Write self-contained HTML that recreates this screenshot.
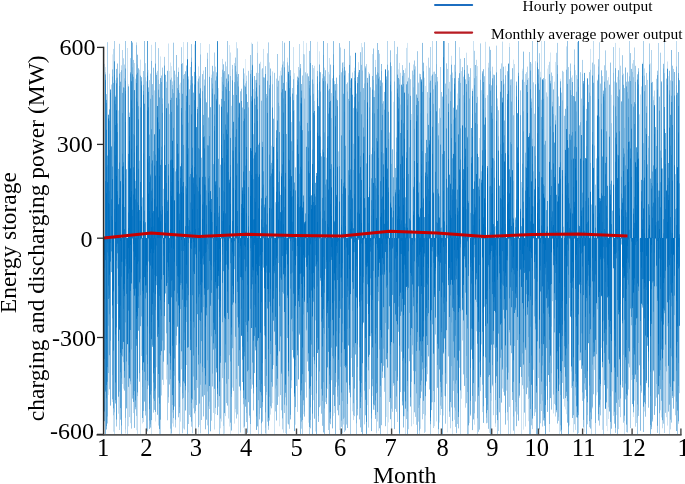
<!DOCTYPE html>
<html><head><meta charset="utf-8"><style>
html,body{margin:0;padding:0;background:#fff;overflow:hidden;}
svg{display:block;}
text{font-family:"Liberation Serif",serif;fill:#000;}
</style></head><body>
<svg width="685" height="484" viewBox="0 0 685 484">
<defs><filter id="tb" x="-2%" y="-2%" width="104%" height="104%"><feGaussianBlur stdDeviation="0.3"/></filter><filter id="bl" x="-1%" y="-1%" width="102%" height="102%"><feGaussianBlur stdDeviation="0.45"/></filter></defs>
<g stroke-width="1" fill="none" filter="url(#bl)"><path stroke="#dfedf7" d="M112.50 54.4V238.2M148.50 69.9V238.2M196.50 75.8V238.2M245.50 59V238.2M261.50 69.4V238.2M509.50 43V238.2M547.50 68.6V238.2M198.50 238.2V434.4M584.50 238.2V432.2M607.50 238.2V431.2"/>
<path stroke="#d4e7f4" d="M104.50 63.9V238.2M105.50 67.1V238.2M115.50 80.3V238.2M128.50 84.1V238.2M160.50 56.4V238.2M169.50 71.1V238.2M170.50 62.5V238.2M171.50 66.2V238.2M175.50 74.5V238.2M179.50 84.6V238.2M183.50 42V238.2M194.50 44.5V238.2M211.50 74.6V238.2M221.50 76.9V238.2M229.50 45.1V238.2M251.50 42.6V238.2M253.50 89V238.2M257.50 41.6V238.2M280.50 70.8V238.2M286.50 81.9V238.2M287.50 57.7V238.2M294.50 73.2V238.2M303.50 41V238.2M306.50 42.9V238.2M317.50 41.8V238.2M318.50 90.1V238.2M319.50 51.3V238.2M337.50 83.9V238.2M343.50 62.1V238.2M348.50 73.2V238.2M354.50 67.7V238.2M361.50 43V238.2M393.50 101.8V238.2M398.50 69.3V238.2M407.50 42.9V238.2M425.50 85.9V238.2M426.50 65.8V238.2M457.50 93.5V238.2M494.50 74.7V238.2M504.50 83.6V238.2M505.50 66.2V238.2M513.50 59.6V238.2M522.50 68.7V238.2M531.50 63.6V238.2M540.50 71.8V238.2M541.50 41V238.2M548.50 65.1V238.2M550.50 52.5V238.2M555.50 61.9V238.2M560.50 78.7V238.2M575.50 70.2V238.2M590.50 48.9V238.2M611.50 94.8V238.2M617.50 76.8V238.2M650.50 63.4V238.2M653.50 96.4V238.2M668.50 76.1V238.2M108.50 238.2V395M126.50 238.2V409M136.50 238.2V430.2M140.50 238.2V434.4M155.50 238.2V421.5M170.50 238.2V434.4M199.50 238.2V425M229.50 238.2V426.5M230.50 238.2V434.4M235.50 238.2V412.4M238.50 238.2V434.4M244.50 238.2V434.4M249.50 238.2V417.9M266.50 238.2V434.4M272.50 238.2V403.2M279.50 238.2V426.3M287.50 238.2V423.6M295.50 238.2V424.7M303.50 238.2V414.2M308.50 238.2V422.7M333.50 238.2V415.9M339.50 238.2V430.1M367.50 238.2V405.1M372.50 238.2V395.9M374.50 238.2V410M378.50 238.2V430.9M386.50 238.2V417M387.50 238.2V434.4M388.50 238.2V422.4M413.50 238.2V424.2M439.50 238.2V422.6M443.50 238.2V415.5M447.50 238.2V432.4M491.50 238.2V432M495.50 238.2V426.9M523.50 238.2V429.7M528.50 238.2V421.2M565.50 238.2V409.4M566.50 238.2V414.2M608.50 238.2V419M633.50 238.2V417M674.50 238.2V396.6"/>
<path stroke="#cae1f2" d="M109.50 73.7V238.2M118.50 110.4V238.2M120.50 72V238.2M127.50 48V238.2M140.50 59.6V238.2M146.50 81.3V238.2M151.50 44.8V238.2M156.50 72.6V238.2M168.50 43.5V238.2M178.50 67.5V238.2M180.50 82.7V238.2M197.50 81.3V238.2M198.50 66.4V238.2M200.50 43V238.2M209.50 44.1V238.2M218.50 88.1V238.2M226.50 66.3V238.2M230.50 52.5V238.2M236.50 42.2V238.2M244.50 73.4V238.2M258.50 72.9V238.2M260.50 61.8V238.2M263.50 48.9V238.2M269.50 62.4V238.2M271.50 145.7V238.2M279.50 75.8V238.2M281.50 67.5V238.2M288.50 65.5V238.2M293.50 47.1V238.2M314.50 65.8V238.2M322.50 74.1V238.2M324.50 67.7V238.2M328.50 71.9V238.2M329.50 58V238.2M358.50 62.2V238.2M368.50 72V238.2M372.50 54.1V238.2M374.50 90.5V238.2M375.50 59.9V238.2M399.50 62.9V238.2M405.50 68.3V238.2M406.50 47.9V238.2M411.50 114V238.2M418.50 82.4V238.2M424.50 77.7V238.2M433.50 71.8V238.2M451.50 55.8V238.2M459.50 47.2V238.2M461.50 71.1V238.2M466.50 52.7V238.2M473.50 41V238.2M477.50 66.1V238.2M479.50 138V238.2M481.50 90.2V238.2M485.50 41.8V238.2M488.50 62.8V238.2M524.50 81.9V238.2M528.50 77.9V238.2M535.50 61.2V238.2M545.50 79.1V238.2M554.50 81.7V238.2M566.50 46.4V238.2M572.50 75.4V238.2M608.50 77.1V238.2M614.50 81.5V238.2M615.50 42.9V238.2M619.50 47.8V238.2M640.50 94.5V238.2M642.50 62.7V238.2M667.50 61.5V238.2M112.50 238.2V402M113.50 238.2V431.7M118.50 238.2V413.7M122.50 238.2V384M123.50 238.2V388.7M125.50 238.2V433.6M128.50 238.2V426.3M130.50 238.2V423.2M142.50 238.2V423.4M151.50 238.2V434.4M156.50 238.2V367.2M166.50 238.2V379.5M172.50 238.2V423.4M173.50 238.2V426.6M179.50 238.2V434.4M180.50 238.2V421.6M183.50 238.2V428.4M215.50 238.2V414.1M220.50 238.2V428.3M221.50 238.2V421.5M223.50 238.2V434.4M224.50 238.2V433.7M232.50 238.2V387.6M234.50 238.2V423.6M243.50 238.2V427.7M256.50 238.2V430M270.50 238.2V414.6M274.50 238.2V434.4M283.50 238.2V432.7M285.50 238.2V433.1M311.50 238.2V394.9M313.50 238.2V400.2M315.50 238.2V431.5M320.50 238.2V405.7M334.50 238.2V413.1M336.50 238.2V382.3M352.50 238.2V411.3M405.50 238.2V434.4M420.50 238.2V428.8M425.50 238.2V431.8M434.50 238.2V426.2M436.50 238.2V421.4M440.50 238.2V415.1M444.50 238.2V395.8M452.50 238.2V434.4M454.50 238.2V419.8M461.50 238.2V398.7M469.50 238.2V423.1M474.50 238.2V424.7M489.50 238.2V432.9M507.50 238.2V420.4M510.50 238.2V434.4M521.50 238.2V434.4M549.50 238.2V432.1M553.50 238.2V413.4M559.50 238.2V434.4M564.50 238.2V406.6M569.50 238.2V425.4M573.50 238.2V432.3M596.50 238.2V395.4M601.50 238.2V347.8M602.50 238.2V429.8M606.50 238.2V425.9M612.50 238.2V391.3M616.50 238.2V415.1M624.50 238.2V434.4M631.50 238.2V380M634.50 238.2V400.6M644.50 238.2V411.5M660.50 238.2V410.3M661.50 238.2V417.4M666.50 238.2V417.2M667.50 238.2V425.6M669.50 238.2V434.4"/>
<path stroke="#bfdbef" d="M113.50 48.9V238.2M121.50 65.3V238.2M134.50 63V238.2M135.50 78.7V238.2M136.50 42.4V238.2M139.50 69.7V238.2M145.50 63.2V238.2M154.50 90.4V238.2M166.50 81.7V238.2M172.50 81.4V238.2M190.50 67V238.2M203.50 70.6V238.2M215.50 66.6V238.2M222.50 58.9V238.2M231.50 105.8V238.2M234.50 63.1V238.2M239.50 102.2V238.2M246.50 75.6V238.2M272.50 71.4V238.2M283.50 61.4V238.2M299.50 44V238.2M304.50 54.4V238.2M313.50 68.1V238.2M326.50 157.7V238.2M334.50 80.9V238.2M336.50 77.3V238.2M350.50 55.7V238.2M352.50 72.5V238.2M396.50 54.1V238.2M400.50 72.8V238.2M413.50 64.5V238.2M431.50 75.8V238.2M432.50 41V238.2M437.50 77V238.2M448.50 43V238.2M449.50 81.9V238.2M452.50 72.5V238.2M472.50 88.6V238.2M476.50 59.8V238.2M497.50 98.4V238.2M502.50 41.6V238.2M514.50 64.1V238.2M525.50 73.9V238.2M563.50 71.8V238.2M576.50 75.1V238.2M593.50 41V238.2M597.50 79.7V238.2M632.50 63.5V238.2M633.50 60V238.2M639.50 114.4V238.2M641.50 86.4V238.2M644.50 68.4V238.2M664.50 41V238.2M676.50 41V238.2M114.50 238.2V434.4M133.50 238.2V413.1M137.50 238.2V433.9M143.50 238.2V422M158.50 238.2V425.6M163.50 238.2V384.9M193.50 238.2V408.3M195.50 238.2V431.5M213.50 238.2V412.9M214.50 238.2V429.5M225.50 238.2V416.1M228.50 238.2V418.5M278.50 238.2V396.7M291.50 238.2V388.2M327.50 238.2V388.9M343.50 238.2V424.5M353.50 238.2V420.1M369.50 238.2V389.2M391.50 238.2V434.4M393.50 238.2V385.9M404.50 238.2V416.3M411.50 238.2V426.3M412.50 238.2V354.5M460.50 238.2V434.4M481.50 238.2V344.4M482.50 238.2V412.1M487.50 238.2V422.8M494.50 238.2V347.9M496.50 238.2V415M502.50 238.2V388.5M514.50 238.2V434.4M517.50 238.2V414.5M519.50 238.2V397.8M525.50 238.2V426.5M533.50 238.2V369.8M546.50 238.2V386.1M575.50 238.2V429.9M591.50 238.2V434.4M597.50 238.2V392.3M613.50 238.2V415.8M636.50 238.2V423M641.50 238.2V392.9M662.50 238.2V428.3M670.50 238.2V429.4"/>
<path stroke="#b5d5ed" d="M111.50 84.5V238.2M122.50 50V238.2M123.50 58.3V238.2M124.50 64.5V238.2M129.50 112.6V238.2M130.50 58.1V238.2M157.50 70.8V238.2M159.50 84V238.2M163.50 188.8V238.2M188.50 76.4V238.2M204.50 79.5V238.2M228.50 74.1V238.2M255.50 80.1V238.2M267.50 53.3V238.2M276.50 78.6V238.2M282.50 41V238.2M291.50 122.1V238.2M294.50 110.1V238.2M298.50 67V238.2M306.50 74.4V238.2M327.50 43.1V238.2M331.50 93.1V238.2M338.50 151.4V238.2M340.50 47.5V238.2M343.50 70.8V238.2M346.50 84.1V238.2M353.50 108.1V238.2M362.50 47.2V238.2M366.50 64.1V238.2M379.50 53.7V238.2M387.50 41V238.2M389.50 132.5V238.2M391.50 66.1V238.2M394.50 41V238.2M404.50 73V238.2M415.50 66.3V238.2M419.50 73.7V238.2M428.50 57.7V238.2M430.50 47V238.2M438.50 123.2V238.2M440.50 67V238.2M447.50 68.9V238.2M450.50 74.7V238.2M454.50 64.8V238.2M460.50 58.8V238.2M463.50 76.7V238.2M487.50 95.2V238.2M492.50 66.7V238.2M495.50 226.1V238.2M496.50 45.6V238.2M501.50 63.4V238.2M521.50 182V238.2M522.50 70.8V238.2M526.50 72.2V238.2M527.50 66.6V238.2M546.50 92.4V238.2M549.50 61.8V238.2M552.50 75.9V238.2M556.50 52.8V238.2M558.50 96.5V238.2M571.50 77.6V238.2M577.50 42.1V238.2M588.50 84.7V238.2M599.50 42.3V238.2M602.50 76.1V238.2M620.50 65.7V238.2M623.50 73.7V238.2M629.50 41V238.2M634.50 47.5V238.2M647.50 79.9V238.2M651.50 50V238.2M654.50 90.5V238.2M656.50 78.8V238.2M658.50 43V238.2M670.50 80.4V238.2M117.50 238.2V304M119.50 238.2V430M127.50 238.2V434.4M129.50 238.2V417.1M141.50 238.2V356M159.50 238.2V434.4M160.50 238.2V434.4M161.50 238.2V395.5M168.50 238.2V402.8M181.50 238.2V369.3M192.50 238.2V433.3M197.50 238.2V387.9M200.50 238.2V433.4M207.50 238.2V425.4M209.50 238.2V409M218.50 238.2V406.7M250.50 238.2V434.4M251.50 238.2V388.8M258.50 238.2V434.4M264.50 238.2V386.1M273.50 238.2V365.1M282.50 238.2V429.4M297.50 238.2V411.9M301.50 238.2V428.7M305.50 238.2V382.3M325.50 238.2V401.9M340.50 238.2V434.2M344.50 238.2V432.1M351.50 238.2V358M364.50 238.2V424.4M366.50 238.2V434.4M368.50 238.2V427.6M376.50 238.2V433.4M377.50 238.2V421.5M397.50 238.2V422M408.50 238.2V429.2M418.50 238.2V421.7M419.50 238.2V434.4M423.50 238.2V414M424.50 238.2V432.9M427.50 238.2V374.2M432.50 238.2V402.2M433.50 238.2V428M438.50 238.2V434.4M450.50 238.2V428.3M453.50 238.2V390.9M459.50 238.2V367.8M462.50 238.2V340.5M465.50 238.2V407.7M468.50 238.2V434.4M476.50 238.2V331.3M477.50 238.2V434.4M480.50 238.2V391.1M491.50 238.2V400.9M492.50 238.2V386.3M493.50 238.2V415.2M498.50 238.2V431M503.50 238.2V391.9M506.50 238.2V390.6M508.50 238.2V434.4M509.50 238.2V406.9M518.50 238.2V421M532.50 238.2V429.1M534.50 238.2V416M535.50 238.2V412.3M538.50 238.2V378M552.50 238.2V301.2M554.50 238.2V403.9M555.50 238.2V416.5M560.50 238.2V431.4M571.50 238.2V387.9M578.50 238.2V433.1M592.50 238.2V408.4M594.50 238.2V369.9M595.50 238.2V434.4M618.50 238.2V429.1M620.50 238.2V417.2M626.50 238.2V432.1M628.50 238.2V389.5M635.50 238.2V426.7M659.50 238.2V434.4M664.50 238.2V433M678.50 238.2V423.8M679.50 238.2V393.2"/>
<path stroke="#aacfea" d="M105.50 72.2V238.2M107.50 42.2V238.2M110.50 89.3V238.2M114.50 41V238.2M119.50 43.8V238.2M149.50 80.1V238.2M150.50 73.6V238.2M155.50 42.1V238.2M158.50 48.1V238.2M164.50 56.9V238.2M169.50 114.2V238.2M177.50 76.9V238.2M181.50 47.2V238.2M183.50 75V238.2M187.50 42.2V238.2M199.50 76.3V238.2M207.50 52.8V238.2M213.50 71.4V238.2M214.50 52.5V238.2M225.50 61.6V238.2M237.50 48.3V238.2M245.50 83.3V238.2M248.50 70.8V238.2M251.50 70V238.2M256.50 72.8V238.2M257.50 52.9V238.2M268.50 42.4V238.2M275.50 202.2V238.2M279.50 106.1V238.2M292.50 88V238.2M296.50 94.6V238.2M303.50 54V238.2M305.50 72.3V238.2M312.50 65V238.2M332.50 78.3V238.2M356.50 93.6V238.2M364.50 42.2V238.2M402.50 65.1V238.2M408.50 77.7V238.2M410.50 79.2V238.2M420.50 74.1V238.2M429.50 67.7V238.2M434.50 71.6V238.2M439.50 108.3V238.2M469.50 77V238.2M474.50 50.8V238.2M480.50 43.4V238.2M509.50 47V238.2M511.50 79.3V238.2M529.50 52V238.2M532.50 41V238.2M533.50 82.3V238.2M534.50 113.7V238.2M539.50 53.2V238.2M544.50 41V238.2M547.50 96.6V238.2M557.50 42.9V238.2M561.50 92.6V238.2M562.50 70.8V238.2M568.50 67.1V238.2M574.50 49.4V238.2M580.50 72.2V238.2M581.50 98.6V238.2M582.50 59.9V238.2M590.50 69.8V238.2M594.50 64.4V238.2M595.50 184.6V238.2M604.50 65.3V238.2M605.50 50.4V238.2M606.50 70.5V238.2M607.50 80.4V238.2M613.50 47.1V238.2M619.50 79.8V238.2M643.50 41V238.2M646.50 72.9V238.2M648.50 136V238.2M649.50 43.4V238.2M660.50 52.7V238.2M673.50 68.9V238.2M675.50 174.2V238.2M125.50 238.2V429.5M148.50 238.2V385.5M167.50 238.2V420.3M172.50 238.2V412.5M175.50 238.2V427.5M176.50 238.2V345.2M182.50 238.2V433.3M184.50 238.2V429.5M186.50 238.2V365M188.50 238.2V424M189.50 238.2V414.9M191.50 238.2V426.7M211.50 238.2V420.7M219.50 238.2V434.4M235.50 238.2V409M240.50 238.2V432.5M261.50 238.2V434.4M266.50 238.2V395.1M267.50 238.2V421.7M268.50 238.2V429.8M281.50 238.2V410.3M289.50 238.2V428.8M302.50 238.2V434.4M303.50 238.2V405.2M306.50 238.2V397.6M309.50 238.2V434.4M328.50 238.2V430M331.50 238.2V380.2M342.50 238.2V433.5M346.50 238.2V424.5M350.50 238.2V434.4M354.50 238.2V416.2M356.50 238.2V434.4M384.50 238.2V391.8M392.50 238.2V411.8M415.50 238.2V416.9M416.50 238.2V424.8M422.50 238.2V419.3M430.50 238.2V434.4M446.50 238.2V383.8M457.50 238.2V424M475.50 238.2V401.5M497.50 238.2V434.4M500.50 238.2V434.4M515.50 238.2V411.5M523.50 238.2V388.9M540.50 238.2V423.3M541.50 238.2V411M542.50 238.2V426.5M574.50 238.2V424.2M579.50 238.2V360.5M587.50 238.2V424.3M589.50 238.2V427.2M599.50 238.2V425.6M603.50 238.2V434.3M608.50 238.2V407.3M610.50 238.2V434.4M630.50 238.2V428.1M650.50 238.2V434.4M656.50 238.2V397.6M675.50 238.2V415.3"/>
<path stroke="#9fc9e7" d="M106.50 94.1V238.2M115.50 95.6V238.2M125.50 41V238.2M133.50 59.9V238.2M142.50 197.5V238.2M143.50 71V238.2M145.50 77.3V238.2M162.50 67.6V238.2M171.50 77.6V238.2M173.50 42.7V238.2M182.50 63.2V238.2M184.50 74V238.2M190.50 80.2V238.2M191.50 44.1V238.2M216.50 72.3V238.2M227.50 41V238.2M232.50 64.9V238.2M233.50 94.9V238.2M235.50 57.6V238.2M236.50 71.6V238.2M250.50 55V238.2M265.50 66.1V238.2M266.50 94V238.2M274.50 72.8V238.2M277.50 54V238.2M288.50 71.8V238.2M300.50 64V238.2M302.50 75.5V238.2M307.50 73.4V238.2M309.50 50.9V238.2M314.50 101V238.2M329.50 74.4V238.2M341.50 72.3V238.2M345.50 70.6V238.2M347.50 82.5V238.2M349.50 41V238.2M351.50 78V238.2M354.50 70.9V238.2M365.50 66.4V238.2M370.50 87.3V238.2M371.50 154.2V238.2M382.50 82.6V238.2M383.50 101.2V238.2M388.50 70.3V238.2M397.50 46.8V238.2M399.50 79.3V238.2M400.50 104.6V238.2M409.50 62.7V238.2M412.50 70.6V238.2M413.50 74.8V238.2M414.50 60.5V238.2M417.50 51.2V238.2M418.50 83.2V238.2M427.50 92.1V238.2M435.50 73.9V238.2M441.50 92V238.2M445.50 83.6V238.2M446.50 63.3V238.2M452.50 78V238.2M453.50 107.7V238.2M458.50 77.9V238.2M465.50 79.3V238.2M467.50 65.2V238.2M470.50 68.2V238.2M476.50 76.1V238.2M484.50 76.2V238.2M488.50 67.6V238.2M489.50 46.6V238.2M493.50 74.6V238.2M498.50 110.2V238.2M500.50 68.8V238.2M510.50 79.5V238.2M518.50 41V238.2M519.50 237.9V238.2M520.50 90.4V238.2M531.50 98.5V238.2M541.50 99.8V238.2M551.50 72.5V238.2M555.50 115.4V238.2M569.50 79.2V238.2M570.50 63.5V238.2M586.50 108.9V238.2M589.50 72.1V238.2M591.50 204.5V238.2M592.50 62.6V238.2M596.50 158.4V238.2M598.50 59.2V238.2M600.50 83.6V238.2M611.50 123.2V238.2M622.50 55.2V238.2M624.50 88.1V238.2M626.50 81.7V238.2M630.50 53.1V238.2M635.50 65.8V238.2M653.50 100.2V238.2M657.50 70.7V238.2M672.50 65.7V238.2M678.50 52V238.2M105.50 238.2V434.4M107.50 238.2V423.5M109.50 238.2V389.3M116.50 238.2V426.5M131.50 238.2V428.6M145.50 238.2V415.5M153.50 238.2V412.6M174.50 238.2V406.5M180.50 238.2V386.8M190.50 238.2V417.1M201.50 238.2V420M222.50 238.2V378.1M223.50 238.2V425.9M226.50 238.2V403.1M236.50 238.2V418.5M237.50 238.2V414.4M246.50 238.2V422.1M252.50 238.2V384.6M265.50 238.2V433.5M269.50 238.2V420.6M275.50 238.2V411.4M280.50 238.2V395.1M284.50 238.2V413M285.50 238.2V397.3M286.50 238.2V434.4M310.50 238.2V428.3M329.50 238.2V434.4M337.50 238.2V410.3M341.50 238.2V426.9M370.50 238.2V336.2M382.50 238.2V378M389.50 238.2V402M396.50 238.2V411.8M400.50 238.2V392.1M401.50 238.2V351.7M406.50 238.2V419.1M425.50 238.2V415.4M441.50 238.2V409M445.50 238.2V423.7M449.50 238.2V416.9M451.50 238.2V407.4M455.50 238.2V426.9M466.50 238.2V403.2M467.50 238.2V434.4M478.50 238.2V431.8M485.50 238.2V398M486.50 238.2V423.3M495.50 238.2V423.4M528.50 238.2V399M531.50 238.2V425.3M558.50 238.2V420.8M562.50 238.2V382.9M575.50 238.2V395.6M582.50 238.2V400.9M584.50 238.2V398.6M600.50 238.2V415.4M607.50 238.2V388.5M615.50 238.2V432.8M619.50 238.2V407M623.50 238.2V422.7M624.50 238.2V420.8M627.50 238.2V432.5M629.50 238.2V367.4M637.50 238.2V434.4M638.50 238.2V415.9M655.50 238.2V406.1M657.50 238.2V432.9M663.50 238.2V423.7M671.50 238.2V422.6M672.50 238.2V398M674.50 238.2V381.4M677.50 238.2V434.4"/>
<path stroke="#95c3e5" d="M117.50 63.5V238.2M124.50 78.3V238.2M144.50 41V238.2M152.50 84.1V238.2M153.50 67.7V238.2M161.50 75.5V238.2M172.50 85V238.2M176.50 55V238.2M186.50 65.5V238.2M189.50 89.3V238.2M197.50 106.9V238.2M200.50 54.5V238.2M201.50 157.7V238.2M202.50 74.1V238.2M211.50 77.9V238.2M220.50 164.7V238.2M240.50 91.3V238.2M241.50 88.7V238.2M242.50 107.5V238.2M246.50 81.1V238.2M249.50 170.8V238.2M252.50 43.9V238.2M255.50 91.4V238.2M262.50 68.3V238.2M264.50 77.6V238.2M284.50 42.7V238.2M287.50 62.3V238.2M299.50 70.2V238.2M304.50 98.6V238.2M310.50 41V238.2M313.50 83.8V238.2M325.50 70.2V238.2M330.50 64.6V238.2M339.50 43.1V238.2M344.50 48.9V238.2M360.50 52.2V238.2M373.50 48.5V238.2M376.50 74.7V238.2M377.50 43V238.2M378.50 50V238.2M384.50 91.9V238.2M386.50 76.4V238.2M390.50 50.3V238.2M391.50 91.4V238.2M429.50 82.7V238.2M433.50 89.3V238.2M436.50 41V238.2M442.50 96.6V238.2M462.50 67.1V238.2M463.50 95.2V238.2M490.50 49.9V238.2M491.50 85.3V238.2M497.50 106.4V238.2M506.50 237.9V238.2M507.50 71.2V238.2M543.50 78V238.2M550.50 80.8V238.2M552.50 101.8V238.2M559.50 106V238.2M564.50 115.8V238.2M567.50 41V238.2M579.50 125.4V238.2M610.50 62.6V238.2M627.50 72.5V238.2M628.50 81.5V238.2M632.50 71.9V238.2M633.50 77.2V238.2M638.50 68.2V238.2M644.50 75.7V238.2M645.50 85.1V238.2M652.50 81.9V238.2M664.50 73.1V238.2M666.50 78.6V238.2M113.50 238.2V415.3M114.50 238.2V412.3M120.50 238.2V419.7M130.50 238.2V384.3M132.50 238.2V398.6M135.50 238.2V409.3M136.50 238.2V415.9M146.50 238.2V433.9M147.50 238.2V431.4M162.50 238.2V379.8M169.50 238.2V384.5M170.50 238.2V428.7M178.50 238.2V417.3M188.50 238.2V392.4M203.50 238.2V416.4M209.50 238.2V401.7M212.50 238.2V386.5M229.50 238.2V355.2M233.50 238.2V390.9M247.50 238.2V432.7M253.50 238.2V410.4M259.50 238.2V419.4M262.50 238.2V421.6M271.50 238.2V408.3M296.50 238.2V386M307.50 238.2V361.5M313.50 238.2V356.9M319.50 238.2V407.2M321.50 238.2V413.7M322.50 238.2V425.8M324.50 238.2V434.3M330.50 238.2V424.2M344.50 238.2V417.6M353.50 238.2V415M357.50 238.2V415.4M359.50 238.2V419.4M360.50 238.2V427.4M361.50 238.2V432.1M378.50 238.2V301.2M380.50 238.2V434.4M381.50 238.2V425.2M383.50 238.2V365.8M385.50 238.2V426.2M395.50 238.2V408.9M409.50 238.2V361.2M414.50 238.2V412.3M421.50 238.2V391.6M429.50 238.2V389.5M435.50 238.2V334.5M440.50 238.2V405.7M448.50 238.2V356.4M456.50 238.2V433.2M458.50 238.2V428.4M463.50 238.2V374.4M474.50 238.2V413.3M479.50 238.2V429.6M484.50 238.2V306.7M488.50 238.2V428.8M499.50 238.2V412.3M506.50 238.2V367.4M513.50 238.2V430.6M522.50 238.2V385.3M527.50 238.2V387.6M529.50 238.2V434.4M530.50 238.2V434.4M544.50 238.2V425.8M545.50 238.2V434.4M551.50 238.2V409.6M556.50 238.2V412.3M557.50 238.2V423.5M559.50 238.2V384.6M563.50 238.2V398.8M568.50 238.2V434.4M571.50 238.2V371.5M577.50 238.2V434.4M580.50 238.2V360.2M583.50 238.2V427.5M593.50 238.2V394.3M614.50 238.2V423.7M617.50 238.2V434.4M621.50 238.2V244.5M625.50 238.2V399.4M643.50 238.2V432M645.50 238.2V416.7M648.50 238.2V407.7M651.50 238.2V429.2M652.50 238.2V421.5M653.50 238.2V371.3M665.50 238.2V412.8M667.50 238.2V326.2"/>
<path stroke="#8abde2" d="M112.50 69.4V238.2M116.50 68.9V238.2M132.50 42.5V238.2M136.50 45.2V238.2M137.50 54.7V238.2M138.50 68.3V238.2M139.50 160.7V238.2M158.50 79.7V238.2M166.50 87.9V238.2M174.50 70.7V238.2M179.50 92.9V238.2M185.50 71.3V238.2M188.50 79.3V238.2M192.50 76.2V238.2M207.50 58.8V238.2M212.50 65.8V238.2M223.50 64.3V238.2M224.50 71.1V238.2M229.50 91V238.2M230.50 76V238.2M232.50 69.1V238.2M237.50 76.9V238.2M238.50 74V238.2M244.50 85.5V238.2M247.50 102V238.2M253.50 134.2V238.2M254.50 76V238.2M259.50 63.7V238.2M269.50 84.9V238.2M270.50 68.5V238.2M272.50 84.3V238.2M278.50 80.7V238.2M290.50 70.1V238.2M295.50 167.4V238.2M297.50 76.6V238.2M301.50 84V238.2M317.50 70.9V238.2M320.50 72.2V238.2M321.50 156.4V238.2M322.50 78.3V238.2M328.50 90.5V238.2M331.50 118.1V238.2M333.50 41.1V238.2M335.50 84V238.2M342.50 62.6V238.2M348.50 98.9V238.2M350.50 80.2V238.2M357.50 77V238.2M361.50 64.9V238.2M362.50 70.5V238.2M363.50 88.1V238.2M364.50 83.5V238.2M369.50 73.7V238.2M381.50 64V238.2M421.50 79.2V238.2M422.50 42.9V238.2M423.50 62.7V238.2M444.50 41V238.2M448.50 88.6V238.2M450.50 91.5V238.2M455.50 41V238.2M464.50 58V238.2M468.50 73.7V238.2M475.50 65V238.2M477.50 96.8V238.2M478.50 157V238.2M481.50 171.3V238.2M482.50 71.3V238.2M485.50 97.9V238.2M503.50 66.7V238.2M512.50 68.2V238.2M513.50 115.3V238.2M515.50 217.5V238.2M523.50 51.6V238.2M530.50 62V238.2M532.50 138.7V238.2M536.50 237.9V238.2M537.50 41V238.2M553.50 89.4V238.2M563.50 226.7V238.2M577.50 79.1V238.2M582.50 73.8V238.2M590.50 95.9V238.2M612.50 210.7V238.2M613.50 72.9V238.2M616.50 82.5V238.2M617.50 96V238.2M631.50 68.9V238.2M637.50 74.3V238.2M659.50 96.6V238.2M663.50 63.8V238.2M669.50 70.7V238.2M671.50 50V238.2M108.50 238.2V373M119.50 238.2V391.7M121.50 238.2V434.4M123.50 238.2V362.2M124.50 238.2V390.6M134.50 238.2V427.9M137.50 238.2V396.1M139.50 238.2V381.7M149.50 238.2V428.9M150.50 238.2V427.6M154.50 238.2V409.9M159.50 238.2V429.1M168.50 238.2V397.2M171.50 238.2V433.6M187.50 238.2V434.4M194.50 238.2V413.4M196.50 238.2V405.1M198.50 238.2V427.1M204.50 238.2V395.2M205.50 238.2V429.3M206.50 238.2V419.7M207.50 238.2V391.5M208.50 238.2V434.4M220.50 238.2V418.6M227.50 238.2V405.6M242.50 238.2V382M243.50 238.2V404.3M260.50 238.2V408.1M265.50 238.2V427.7M275.50 238.2V388.5M276.50 238.2V420.5M288.50 238.2V424.4M290.50 238.2V419.4M291.50 238.2V380.3M292.50 238.2V350M293.50 238.2V358.5M299.50 238.2V334.7M300.50 238.2V434.4M304.50 238.2V416.6M311.50 238.2V376.4M315.50 238.2V320.4M318.50 238.2V421.9M323.50 238.2V432.4M335.50 238.2V434.4M338.50 238.2V415.3M340.50 238.2V366.8M345.50 238.2V430.4M347.50 238.2V428M349.50 238.2V392.7M362.50 238.2V434.4M365.50 238.2V415.3M367.50 238.2V303.9M373.50 238.2V409.7M375.50 238.2V418.9M379.50 238.2V428.3M391.50 238.2V408.7M394.50 238.2V429.1M398.50 238.2V331.8M403.50 238.2V427.5M407.50 238.2V434.4M413.50 238.2V370.8M417.50 238.2V434.4M418.50 238.2V407.9M424.50 238.2V368M431.50 238.2V410.1M454.50 238.2V407.6M455.50 238.2V410.6M470.50 238.2V415.6M472.50 238.2V430.1M490.50 238.2V434.4M505.50 238.2V424.6M507.50 238.2V412.2M508.50 238.2V372.6M509.50 238.2V332.4M511.50 238.2V353.2M512.50 238.2V400M514.50 238.2V346M515.50 238.2V402M516.50 238.2V426.2M524.50 238.2V412.6M535.50 238.2V408.9M536.50 238.2V434.4M537.50 238.2V434M540.50 238.2V403.8M541.50 238.2V394.3M542.50 238.2V400.6M543.50 238.2V420.4M558.50 238.2V417.1M560.50 238.2V425.3M576.50 238.2V417.3M585.50 238.2V389.8M587.50 238.2V415.1M590.50 238.2V428.6M597.50 238.2V309.2M604.50 238.2V385.1M611.50 238.2V428.7M637.50 238.2V417.5M638.50 238.2V410.4M639.50 238.2V365.3M640.50 238.2V430.7M641.50 238.2V391.3M642.50 238.2V307.6M656.50 238.2V384M666.50 238.2V371.4M668.50 238.2V411.6"/>
<path stroke="#80b8e0" d="M121.50 70.2V238.2M141.50 77.2V238.2M148.50 87.4V238.2M151.50 60.9V238.2M165.50 74.9V238.2M167.50 70.8V238.2M175.50 171.4V238.2M190.50 85.2V238.2M191.50 57.6V238.2M193.50 92.6V238.2M198.50 78.6V238.2M205.50 67V238.2M208.50 117.5V238.2M219.50 104.5V238.2M222.50 69.7V238.2M227.50 83.3V238.2M234.50 82.1V238.2M243.50 68.4V238.2M261.50 100.7V238.2M266.50 97.8V238.2M273.50 118.7V238.2M277.50 86.7V238.2M293.50 79.2V238.2M308.50 76.3V238.2M324.50 76.3V238.2M330.50 80.1V238.2M334.50 84.4V238.2M336.50 78V238.2M347.50 91.6V238.2M353.50 143.8V238.2M358.50 72.4V238.2M367.50 77.9V238.2M375.50 67.1V238.2M379.50 76.7V238.2M380.50 80.3V238.2M392.50 149.3V238.2M394.50 81.5V238.2M395.50 168V238.2M403.50 70.1V238.2M413.50 87.3V238.2M419.50 182.5V238.2M436.50 64.2V238.2M440.50 117.8V238.2M446.50 94.7V238.2M453.50 119.5V238.2M457.50 105.3V238.2M458.50 81V238.2M460.50 82.9V238.2M483.50 69.2V238.2M494.50 75.2V238.2M498.50 136.3V238.2M505.50 75.2V238.2M516.50 81.6V238.2M533.50 171.3V238.2M538.50 69.2V238.2M540.50 77.4V238.2M562.50 100.4V238.2M565.50 108.8V238.2M566.50 69.7V238.2M570.50 71.1V238.2M571.50 95V238.2M574.50 64.8V238.2M576.50 91.7V238.2M583.50 81V238.2M594.50 145.6V238.2M597.50 80.8V238.2M598.50 66.5V238.2M599.50 116.7V238.2M601.50 70.3V238.2M603.50 90.6V238.2M609.50 84.7V238.2M618.50 70.2V238.2M624.50 127.9V238.2M625.50 67.5V238.2M629.50 76.3V238.2M648.50 147.8V238.2M661.50 81.4V238.2M662.50 168.5V238.2M674.50 72V238.2M676.50 66.5V238.2M679.50 80.2V238.2M104.50 238.2V421.2M105.50 238.2V434.4M106.50 238.2V429.5M110.50 238.2V405.6M111.50 238.2V272.1M115.50 238.2V403.5M125.50 238.2V417.8M144.50 238.2V401.6M157.50 238.2V414.8M161.50 238.2V351.2M164.50 238.2V350.3M172.50 238.2V405M183.50 238.2V397.9M193.50 238.2V376.5M195.50 238.2V411.2M200.50 238.2V384.8M210.50 238.2V431.3M215.50 238.2V407.9M216.50 238.2V372.4M217.50 238.2V415.1M218.50 238.2V299.4M228.50 238.2V379.1M230.50 238.2V422.7M231.50 238.2V430.5M244.50 238.2V426.7M245.50 238.2V406.7M246.50 238.2V413M248.50 238.2V402.2M249.50 238.2V415.6M254.50 238.2V373.1M255.50 238.2V350.4M257.50 238.2V426.4M259.50 238.2V413.8M266.50 238.2V392M269.50 238.2V396.8M270.50 238.2V406.3M277.50 238.2V404.9M294.50 238.2V431.1M312.50 238.2V434.4M314.50 238.2V418.7M316.50 238.2V434.4M326.50 238.2V404.1M329.50 238.2V422.8M332.50 238.2V428.4M342.50 238.2V401.1M343.50 238.2V418.8M356.50 238.2V423.3M371.50 238.2V431.1M372.50 238.2V386.3M390.50 238.2V419.2M399.50 238.2V434.4M402.50 238.2V405.4M411.50 238.2V381.8M412.50 238.2V345.3M419.50 238.2V430.6M426.50 238.2V381.5M428.50 238.2V356.4M433.50 238.2V391M434.50 238.2V402.1M437.50 238.2V387.8M442.50 238.2V434.4M453.50 238.2V380.7M462.50 238.2V310.4M464.50 238.2V385.9M466.50 238.2V378M473.50 238.2V419.4M476.50 238.2V302.1M477.50 238.2V418.3M483.50 238.2V422.9M486.50 238.2V417.7M501.50 238.2V402.6M518.50 238.2V420.3M526.50 238.2V394.2M528.50 238.2V376.6M539.50 238.2V429.4M547.50 238.2V411.9M549.50 238.2V424M553.50 238.2V394.6M555.50 238.2V405.2M561.50 238.2V434.4M566.50 238.2V396.1M567.50 238.2V422.7M569.50 238.2V298M572.50 238.2V418M586.50 238.2V434.1M592.50 238.2V406.8M618.50 238.2V399.7M623.50 238.2V354.9M631.50 238.2V325.3M650.50 238.2V434.4M654.50 238.2V414.9M670.50 238.2V419.7M673.50 238.2V408.7M676.50 238.2V431"/>
<path stroke="#75b2dd" d="M113.50 82.9V238.2M124.50 87.8V238.2M126.50 169.2V238.2M132.50 67.3V238.2M135.50 180.9V238.2M137.50 64.6V238.2M162.50 98.4V238.2M170.50 79.7V238.2M179.50 99V238.2M183.50 78.8V238.2M185.50 110.5V238.2M206.50 102.3V238.2M210.50 107.2V238.2M215.50 80.5V238.2M236.50 74.3V238.2M248.50 107.4V238.2M263.50 77.3V238.2M280.50 194.9V238.2M281.50 75.4V238.2M282.50 64.6V238.2M286.50 134V238.2M289.50 41V238.2M319.50 64.5V238.2M323.50 41V238.2M372.50 76V238.2M373.50 79.9V238.2M376.50 84.4V238.2M378.50 73.2V238.2M387.50 64.7V238.2M396.50 137.5V238.2M408.50 93.7V238.2M416.50 94.5V238.2M427.50 113.4V238.2M429.50 97.7V238.2M435.50 82.3V238.2M437.50 81.4V238.2M439.50 196.2V238.2M469.50 98.5V238.2M474.50 78.2V238.2M480.50 79.8V238.2M490.50 71.3V238.2M504.50 120.5V238.2M510.50 85.2V238.2M525.50 152.7V238.2M531.50 101.8V238.2M555.50 120.3V238.2M557.50 65.2V238.2M573.50 96V238.2M580.50 122.2V238.2M589.50 92.6V238.2M605.50 87.8V238.2M620.50 237.9V238.2M627.50 92.1V238.2M643.50 143.2V238.2M646.50 106.3V238.2M655.50 127.1V238.2M677.50 92.8V238.2M107.50 238.2V416.5M112.50 238.2V399.3M117.50 238.2V268.5M122.50 238.2V356.4M126.50 238.2V408.1M131.50 238.2V349.4M141.50 238.2V316.5M143.50 238.2V410.9M145.50 238.2V411.1M146.50 238.2V354.7M158.50 238.2V397.6M165.50 238.2V293.5M166.50 238.2V333.3M173.50 238.2V418.1M174.50 238.2V375.7M179.50 238.2V413.1M182.50 238.2V398.8M185.50 238.2V410.5M186.50 238.2V322M199.50 238.2V403.6M202.50 238.2V396.6M211.50 238.2V336.3M232.50 238.2V348.2M234.50 238.2V269.2M236.50 238.2V378.9M250.50 238.2V424M258.50 238.2V400.2M262.50 238.2V406.8M263.50 238.2V267.6M264.50 238.2V335.2M272.50 238.2V386.7M278.50 238.2V263M282.50 238.2V418.4M286.50 238.2V405.5M287.50 238.2V338M295.50 238.2V407.1M301.50 238.2V421.6M304.50 238.2V411.6M310.50 238.2V419.9M322.50 238.2V400.9M324.50 238.2V408.5M337.50 238.2V396.6M341.50 238.2V420.7M355.50 238.2V354.5M357.50 238.2V408.9M361.50 238.2V396.9M364.50 238.2V390.7M370.50 238.2V295.2M374.50 238.2V405.3M380.50 238.2V396.9M388.50 238.2V329.3M404.50 238.2V391.7M410.50 238.2V406.5M416.50 238.2V393.4M422.50 238.2V369.3M440.50 238.2V387M451.50 238.2V366.1M452.50 238.2V421.1M457.50 238.2V393.2M467.50 238.2V392M479.50 238.2V362.3M482.50 238.2V384.7M495.50 238.2V400M504.50 238.2V395.6M513.50 238.2V416.5M516.50 238.2V406.9M517.50 238.2V340M529.50 238.2V397.7M534.50 238.2V316.4M543.50 238.2V413.7M544.50 238.2V420.6M550.50 238.2V398.1M551.50 238.2V373.2M559.50 238.2V346.8M568.50 238.2V434.4M573.50 238.2V415.2M578.50 238.2V415.1M581.50 238.2V368.8M584.50 238.2V383.4M591.50 238.2V419.2M595.50 238.2V423M596.50 238.2V354.2M598.50 238.2V420.5M599.50 238.2V407.2M600.50 238.2V399.7M609.50 238.2V411.5M622.50 238.2V387.5M632.50 238.2V404.1M633.50 238.2V412.3M636.50 238.2V382.1M646.50 238.2V383.1M647.50 238.2V345.8M652.50 238.2V419.4M659.50 238.2V413.2M660.50 238.2V389.1M661.50 238.2V400.8M665.50 238.2V366.4M669.50 238.2V404.7M674.50 238.2V315.1"/>
<path stroke="#6aacda" d="M112.50 76.5V238.2M116.50 78.2V238.2M117.50 77.5V238.2M118.50 168.9V238.2M120.50 81.7V238.2M122.50 92.9V238.2M130.50 72.3V238.2M133.50 76.8V238.2M140.50 75.7V238.2M143.50 84.8V238.2M149.50 134.6V238.2M150.50 98.8V238.2M152.50 95.2V238.2M153.50 151.1V238.2M156.50 74.9V238.2M160.50 78.1V238.2M168.50 103.5V238.2M172.50 89.1V238.2M173.50 93.1V238.2M174.50 80.4V238.2M177.50 88.1V238.2M178.50 71.9V238.2M188.50 122.7V238.2M194.50 71.9V238.2M198.50 82.4V238.2M203.50 114.9V238.2M204.50 85.6V238.2M205.50 98.5V238.2M209.50 76.8V238.2M212.50 83.6V238.2M216.50 76.4V238.2M221.50 98.9V238.2M222.50 81.9V238.2M223.50 72.8V238.2M228.50 74.6V238.2M235.50 65.9V238.2M237.50 81.4V238.2M243.50 78.7V238.2M251.50 96.3V238.2M256.50 79.8V238.2M267.50 80.7V238.2M271.50 162.9V238.2M278.50 102.8V238.2M309.50 81V238.2M312.50 79.5V238.2M313.50 93.8V238.2M325.50 81.3V238.2M333.50 54.3V238.2M337.50 100.2V238.2M339.50 75.2V238.2M342.50 68.3V238.2M350.50 88V238.2M354.50 77.8V238.2M356.50 108.5V238.2M360.50 91.8V238.2M364.50 100V238.2M365.50 68.3V238.2M366.50 163.4V238.2M374.50 97.1V238.2M377.50 72.3V238.2M381.50 71.1V238.2M382.50 103.6V238.2M383.50 153.3V238.2M386.50 79.6V238.2M391.50 163.9V238.2M393.50 177.3V238.2M398.50 78V238.2M399.50 84.6V238.2M402.50 75.8V238.2M407.50 81.4V238.2M409.50 147.3V238.2M414.50 69.5V238.2M420.50 77.1V238.2M425.50 153.1V238.2M433.50 103.8V238.2M438.50 135.4V238.2M451.50 64.7V238.2M455.50 71.7V238.2M456.50 109.6V238.2M459.50 73.2V238.2M468.50 80.8V238.2M489.50 84.2V238.2M491.50 105.9V238.2M499.50 185.7V238.2M502.50 97.7V238.2M503.50 79.4V238.2M511.50 101.6V238.2M513.50 180.8V238.2M523.50 111.3V238.2M527.50 79.8V238.2M534.50 146.3V238.2M535.50 84.3V238.2M538.50 74.7V238.2M544.50 144.6V238.2M545.50 140.8V238.2M553.50 114.1V238.2M560.50 81.3V238.2M576.50 111.5V238.2M593.50 82.8V238.2M596.50 237.9V238.2M601.50 103.7V238.2M615.50 68.2V238.2M616.50 116.1V238.2M621.50 101.4V238.2M622.50 75.2V238.2M623.50 84.8V238.2M635.50 81.9V238.2M640.50 237.9V238.2M645.50 128.3V238.2M647.50 164.4V238.2M656.50 146V238.2M660.50 150.5V238.2M663.50 68.5V238.2M665.50 133V238.2M676.50 85.2V238.2M108.50 238.2V325.8M128.50 238.2V386.9M135.50 238.2V407.1M138.50 238.2V330.7M147.50 238.2V389.1M150.50 238.2V424.3M151.50 238.2V420.1M152.50 238.2V346.8M153.50 238.2V398.6M155.50 238.2V411.9M160.50 238.2V419.7M162.50 238.2V340.6M170.50 238.2V379M175.50 238.2V419.7M176.50 238.2V335.9M191.50 238.2V421.6M195.50 238.2V400M203.50 238.2V307M207.50 238.2V360.3M208.50 238.2V406.2M212.50 238.2V373.6M217.50 238.2V400M226.50 238.2V383.7M239.50 238.2V386.5M256.50 238.2V429.9M259.50 238.2V390.8M276.50 238.2V385.5M283.50 238.2V293.6M284.50 238.2V404.7M292.50 238.2V331.4M300.50 238.2V417.6M302.50 238.2V420M306.50 238.2V330.4M308.50 238.2V371.2M318.50 238.2V416.1M331.50 238.2V347.7M333.50 238.2V394.9M339.50 238.2V405.1M344.50 238.2V366M348.50 238.2V345.5M353.50 238.2V403.2M356.50 238.2V400M359.50 238.2V380.7M366.50 238.2V433.8M368.50 238.2V370.4M383.50 238.2V348.7M385.50 238.2V322.9M393.50 238.2V383.2M394.50 238.2V385.1M395.50 238.2V370.8M396.50 238.2V396.5M407.50 238.2V411.4M408.50 238.2V348.5M409.50 238.2V312.9M415.50 238.2V371.3M419.50 238.2V405M420.50 238.2V398.1M430.50 238.2V424.2M436.50 238.2V256.7M438.50 238.2V429.2M441.50 238.2V397M443.50 238.2V353.6M449.50 238.2V411.5M455.50 238.2V383.7M466.50 238.2V356M470.50 238.2V413.9M471.50 238.2V349.6M487.50 238.2V410.1M492.50 238.2V384.7M500.50 238.2V357.8M505.50 238.2V412.8M521.50 238.2V376.9M522.50 238.2V353.4M525.50 238.2V349.8M545.50 238.2V434.4M546.50 238.2V348.1M548.50 238.2V375.1M560.50 238.2V395M565.50 238.2V398.1M575.50 238.2V387.3M582.50 238.2V392.4M589.50 238.2V421.1M603.50 238.2V341.3M616.50 238.2V402.9M620.50 238.2V398.5M625.50 238.2V383.6M628.50 238.2V363.6M634.50 238.2V379.1M638.50 238.2V343M649.50 238.2V281.1M651.50 238.2V426.7M658.50 238.2V394.4M663.50 238.2V349.8M664.50 238.2V313.2M671.50 238.2V356.3"/>
<path stroke="#60a6d8" d="M109.50 109.4V238.2M119.50 73.6V238.2M125.50 68.5V238.2M128.50 86.4V238.2M131.50 41V238.2M155.50 63.6V238.2M159.50 97.4V238.2M161.50 82V238.2M162.50 104.1V238.2M164.50 65.6V238.2M171.50 97.8V238.2M181.50 64V238.2M189.50 105V238.2M202.50 91.2V238.2M213.50 164.1V238.2M218.50 158.8V238.2M225.50 86.9V238.2M226.50 78.6V238.2M235.50 83.9V238.2M250.50 73.9V238.2M252.50 64.7V238.2M253.50 158.5V238.2M255.50 104.9V238.2M257.50 96.6V238.2M262.50 141.8V238.2M283.50 82.9V238.2M289.50 80.2V238.2M291.50 141.3V238.2M297.50 80.3V238.2M299.50 121.4V238.2M300.50 68.3V238.2M313.50 105.5V238.2M315.50 182.8V238.2M316.50 173V238.2M320.50 91.6V238.2M322.50 149.5V238.2M323.50 54.9V238.2M324.50 132.4V238.2M327.50 83.6V238.2M336.50 98.7V238.2M338.50 237.9V238.2M343.50 93.8V238.2M353.50 169.9V238.2M358.50 74.9V238.2M369.50 75.7V238.2M384.50 109.7V238.2M387.50 71.7V238.2M396.50 151.9V238.2M405.50 197.3V238.2M406.50 84.3V238.2M411.50 230.1V238.2M419.50 216.3V238.2M420.50 113.4V238.2M430.50 80.7V238.2M432.50 74.5V238.2M441.50 227.5V238.2M447.50 187.6V238.2M450.50 101V238.2M466.50 84.1V238.2M470.50 212.9V238.2M471.50 128V238.2M475.50 112.8V238.2M477.50 124.2V238.2M482.50 73.5V238.2M486.50 237.9V238.2M492.50 78.3V238.2M493.50 158.4V238.2M494.50 160.7V238.2M496.50 72.4V238.2M518.50 72.8V238.2M520.50 115.2V238.2M522.50 79.7V238.2M541.50 117V238.2M543.50 80.3V238.2M549.50 74.2V238.2M551.50 169.7V238.2M572.50 82V238.2M586.50 120.8V238.2M590.50 162.9V238.2M604.50 81.7V238.2M606.50 131.3V238.2M610.50 183.9V238.2M613.50 105.5V238.2M617.50 154.7V238.2M619.50 89.5V238.2M627.50 149.5V238.2M628.50 98.6V238.2M630.50 81V238.2M633.50 106.6V238.2M634.50 102.2V238.2M638.50 71.6V238.2M644.50 91.2V238.2M649.50 64.4V238.2M650.50 178.6V238.2M657.50 75.1V238.2M658.50 190.5V238.2M661.50 82.5V238.2M669.50 90.3V238.2M671.50 95.8V238.2M672.50 81.2V238.2M673.50 237.9V238.2M675.50 209.1V238.2M678.50 73.1V238.2M112.50 238.2V375.1M121.50 238.2V425.5M130.50 238.2V381.3M140.50 238.2V326.2M142.50 238.2V418M148.50 238.2V261.5M149.50 238.2V420.5M156.50 238.2V285.2M163.50 238.2V361.7M169.50 238.2V353.4M178.50 238.2V380.7M179.50 238.2V407.1M180.50 238.2V309M182.50 238.2V393.2M184.50 238.2V383.3M192.50 238.2V399.5M194.50 238.2V390.2M213.50 238.2V349.6M214.50 238.2V388.8M224.50 238.2V413.1M231.50 238.2V396.9M237.50 238.2V317.3M238.50 238.2V365.9M240.50 238.2V390.5M253.50 238.2V393.5M261.50 238.2V423.2M265.50 238.2V412.3M268.50 238.2V425.8M271.50 238.2V382.1M279.50 238.2V351.3M295.50 238.2V366.3M296.50 238.2V256.2M298.50 238.2V379.4M303.50 238.2V400.3M309.50 238.2V427M319.50 238.2V371.5M320.50 238.2V280.7M321.50 238.2V388.8M323.50 238.2V382.2M329.50 238.2V412.5M334.50 238.2V406M337.50 238.2V390.1M338.50 238.2V385.7M349.50 238.2V389.4M350.50 238.2V397.3M352.50 238.2V377M354.50 238.2V388.6M371.50 238.2V418.5M372.50 238.2V378.9M375.50 238.2V415M376.50 238.2V393.2M377.50 238.2V412.1M378.50 238.2V291.9M379.50 238.2V349.5M384.50 238.2V377.7M398.50 238.2V306.7M402.50 238.2V401.4M407.50 238.2V386M412.50 238.2V329M417.50 238.2V341.9M426.50 238.2V366.7M431.50 238.2V402.4M432.50 238.2V324.3M439.50 238.2V369.5M450.50 238.2V402M451.50 238.2V322.4M456.50 238.2V380.3M459.50 238.2V350.7M464.50 238.2V258.9M465.50 238.2V292.7M468.50 238.2V425.4M474.50 238.2V257.3M475.50 238.2V299.8M488.50 238.2V376.9M502.50 238.2V369.5M519.50 238.2V395.6M520.50 238.2V367M528.50 238.2V337.1M529.50 238.2V381.2M530.50 238.2V409M539.50 238.2V362.6M542.50 238.2V365.5M551.50 238.2V326.7M554.50 238.2V332.4M564.50 238.2V367.2M583.50 238.2V419.9M584.50 238.2V373.8M590.50 238.2V412.4M592.50 238.2V364.7M604.50 238.2V380.1M606.50 238.2V402.4M610.50 238.2V421.9M614.50 238.2V411.8M615.50 238.2V427.8M622.50 238.2V381M626.50 238.2V424.6M637.50 238.2V404.5M644.50 238.2V402.3M645.50 238.2V404.1M657.50 238.2V425.8M662.50 238.2V420.2M672.50 238.2V395.9M678.50 238.2V421.3"/>
<path stroke="#55a0d5" d="M105.50 74.4V238.2M106.50 99.9V238.2M123.50 87.4V238.2M138.50 106.2V238.2M147.50 41V238.2M158.50 89.7V238.2M182.50 93.8V238.2M192.50 83.4V238.2M206.50 190.4V238.2M214.50 94.4V238.2M222.50 91.1V238.2M238.50 86.5V238.2M245.50 86.7V238.2M258.50 144.7V238.2M259.50 85.2V238.2M264.50 204.5V238.2M265.50 74V238.2M267.50 96V238.2M269.50 88.4V238.2M270.50 75.7V238.2M284.50 67.3V238.2M290.50 75.8V238.2M292.50 93.6V238.2M298.50 77.7V238.2M307.50 122.9V238.2M309.50 85.2V238.2M310.50 63V238.2M319.50 71.6V238.2M326.50 179.5V238.2M329.50 88.9V238.2M335.50 90.5V238.2M344.50 66.9V238.2M345.50 145.8V238.2M349.50 64.9V238.2M352.50 94.7V238.2M359.50 70V238.2M361.50 114.3V238.2M363.50 127.5V238.2M371.50 178.3V238.2M373.50 97V238.2M380.50 86.1V238.2M388.50 111.8V238.2M389.50 237.9V238.2M390.50 62.4V238.2M395.50 189.7V238.2M397.50 74.6V238.2M399.50 98.4V238.2M403.50 83.9V238.2M407.50 99.6V238.2M410.50 95.8V238.2M414.50 128.8V238.2M418.50 101.1V238.2M422.50 91.9V238.2M438.50 139.6V238.2M452.50 158.3V238.2M454.50 78.2V238.2M460.50 128.4V238.2M467.50 136.8V238.2M474.50 85.1V238.2M476.50 102.9V238.2M492.50 81.2V238.2M501.50 81V238.2M504.50 135.3V238.2M510.50 142.1V238.2M515.50 219.6V238.2M516.50 85.6V238.2M517.50 113.2V238.2M521.50 226.2V238.2M525.50 166.8V238.2M526.50 85V238.2M529.50 133.2V238.2M530.50 70.5V238.2M531.50 108V238.2M533.50 206.5V238.2M537.50 62.6V238.2M539.50 89.8V238.2M546.50 210.1V238.2M557.50 74.1V238.2M567.50 83.9V238.2M570.50 90.1V238.2M574.50 96.6V238.2M575.50 101.3V238.2M584.50 72.9V238.2M588.50 102.1V238.2M595.50 205.5V238.2M604.50 100.5V238.2M618.50 97.1V238.2M625.50 165.4V238.2M626.50 86.4V238.2M631.50 104.1V238.2M651.50 82.7V238.2M652.50 171.5V238.2M662.50 237.9V238.2M668.50 163V238.2M672.50 101.6V238.2M674.50 95.4V238.2M109.50 238.2V355.2M110.50 238.2V340.7M113.50 238.2V408.4M116.50 238.2V419.5M118.50 238.2V396.7M120.50 238.2V408.1M125.50 238.2V322.4M128.50 238.2V364.9M133.50 238.2V401.9M134.50 238.2V391.1M139.50 238.2V373.2M142.50 238.2V387.1M145.50 238.2V380.2M151.50 238.2V390.9M154.50 238.2V400.9M159.50 238.2V428.9M167.50 238.2V364.6M186.50 238.2V307.2M201.50 238.2V341.1M202.50 238.2V372.1M204.50 238.2V368.1M222.50 238.2V322.2M224.50 238.2V369.1M230.50 238.2V361.5M235.50 238.2V336.8M243.50 238.2V398.1M248.50 238.2V369.9M250.50 238.2V379.1M252.50 238.2V362.6M266.50 238.2V375.9M270.50 238.2V354.1M274.50 238.2V331.6M281.50 238.2V373.7M285.50 238.2V392.8M288.50 238.2V376.4M290.50 238.2V414.8M292.50 238.2V318M297.50 238.2V355.3M299.50 238.2V333.4M305.50 238.2V257.6M306.50 238.2V328.5M310.50 238.2V407.3M314.50 238.2V364.1M316.50 238.2V393.4M317.50 238.2V353M324.50 238.2V333.8M325.50 238.2V268.8M330.50 238.2V418.6M332.50 238.2V356.1M335.50 238.2V386.9M339.50 238.2V333.3M342.50 238.2V342.3M347.50 238.2V403.9M353.50 238.2V347.3M357.50 238.2V366.9M358.50 238.2V239.9M363.50 238.2V322.6M373.50 238.2V404.3M382.50 238.2V371.6M386.50 238.2V359.2M387.50 238.2V367.6M397.50 238.2V380.8M405.50 238.2V408.7M421.50 238.2V380.7M423.50 238.2V400.8M424.50 238.2V287.1M427.50 238.2V345M437.50 238.2V365M445.50 238.2V396.3M460.50 238.2V390.4M472.50 238.2V395.9M478.50 238.2V395.8M483.50 238.2V406.2M487.50 238.2V404.7M489.50 238.2V375.1M490.50 238.2V393M496.50 238.2V376.3M497.50 238.2V420.1M498.50 238.2V333.6M503.50 238.2V309.8M509.50 238.2V330M510.50 238.2V345.4M512.50 238.2V392M532.50 238.2V418.6M547.50 238.2V399.8M549.50 238.2V382M567.50 238.2V401.2M568.50 238.2V426.6M578.50 238.2V344.8M581.50 238.2V333.3M586.50 238.2V396.1M588.50 238.2V343.2M594.50 238.2V356.3M600.50 238.2V386.1M602.50 238.2V367.3M608.50 238.2V359.6M624.50 238.2V415.6M625.50 238.2V360M627.50 238.2V395.5M630.50 238.2V308.5M632.50 238.2V374.9M645.50 238.2V390.4M650.50 238.2V424.9M653.50 238.2V370M656.50 238.2V286.4M660.50 238.2V370.1M669.50 238.2V383.5M676.50 238.2V401.7M677.50 238.2V410.6"/>
<path stroke="#4a9ad2" d="M107.50 155.6V238.2M115.50 96.9V238.2M117.50 123.4V238.2M119.50 86V238.2M122.50 113.1V238.2M130.50 73.8V238.2M133.50 134.1V238.2M136.50 74.5V238.2M137.50 72.8V238.2M140.50 107.4V238.2M141.50 81.3V238.2M143.50 90.9V238.2M151.50 129.2V238.2M167.50 200.2V238.2M172.50 140.4V238.2M185.50 186.2V238.2M199.50 93.5V238.2M200.50 88.3V238.2M203.50 125.2V238.2M207.50 145.2V238.2M212.50 88.5V238.2M217.50 41V238.2M223.50 84.6V238.2M224.50 101.1V238.2M227.50 112.4V238.2M232.50 80.3V238.2M241.50 101V238.2M246.50 94.2V238.2M251.50 101.3V238.2M254.50 98.6V238.2M256.50 82.9V238.2M266.50 195.8V238.2M276.50 130.2V238.2M279.50 132.1V238.2M281.50 92.4V238.2M283.50 98.4V238.2M294.50 182.5V238.2M301.50 90.6V238.2M302.50 130.1V238.2M305.50 213.4V238.2M308.50 131.2V238.2M311.50 195.3V238.2M312.50 149.5V238.2M317.50 76.3V238.2M318.50 106.1V238.2M328.50 113.6V238.2M341.50 135.4V238.2M342.50 193.9V238.2M348.50 170.2V238.2M358.50 101.7V238.2M359.50 136.5V238.2M360.50 155.9V238.2M369.50 107.4V238.2M376.50 138.1V238.2M377.50 109V238.2M392.50 217.4V238.2M398.50 96.9V238.2M400.50 133V238.2M401.50 84.7V238.2M402.50 86.6V238.2M417.50 97.8V238.2M421.50 80.2V238.2M423.50 71.3V238.2M424.50 217.1V238.2M426.50 139.9V238.2M428.50 124.9V238.2M435.50 85.2V238.2M442.50 154.1V238.2M443.50 41V238.2M448.50 103.6V238.2M451.50 123.8V238.2M455.50 117.7V238.2M456.50 199.4V238.2M459.50 98.6V238.2M464.50 69.9V238.2M465.50 127.6V238.2M466.50 91.8V238.2M472.50 90.9V238.2M479.50 178.6V238.2M483.50 82V238.2M489.50 186.4V238.2M490.50 90.6V238.2M500.50 91.8V238.2M507.50 94V238.2M508.50 63.6V238.2M513.50 217.7V238.2M523.50 131.4V238.2M535.50 155.9V238.2M538.50 83.5V238.2M543.50 98.9V238.2M544.50 186V238.2M550.50 83.4V238.2M554.50 142.6V238.2M564.50 232.5V238.2M569.50 134.2V238.2M582.50 192.6V238.2M586.50 146.3V238.2M587.50 78.3V238.2M592.50 75.5V238.2M598.50 74.6V238.2M602.50 156.5V238.2M603.50 93.9V238.2M615.50 106.6V238.2M624.50 153.6V238.2M635.50 104.1V238.2M636.50 147.3V238.2M643.50 180.5V238.2M646.50 112.9V238.2M649.50 71.7V238.2M653.50 165.4V238.2M659.50 110.6V238.2M669.50 94.6V238.2M670.50 114.8V238.2M679.50 183.3V238.2M106.50 238.2V426.1M107.50 238.2V381.8M115.50 238.2V400.1M121.50 238.2V378.3M124.50 238.2V377.7M137.50 238.2V392.4M152.50 238.2V344.9M153.50 238.2V382.5M177.50 238.2V326.7M181.50 238.2V351.3M185.50 238.2V390.3M191.50 238.2V403M194.50 238.2V327.6M197.50 238.2V314.2M198.50 238.2V364.5M200.50 238.2V363.4M215.50 238.2V348.4M219.50 238.2V396.1M225.50 238.2V362.5M231.50 238.2V393.8M234.50 238.2V256.2M244.50 238.2V356.3M255.50 238.2V346.6M256.50 238.2V416.5M259.50 238.2V379.9M264.50 238.2V326.2M280.50 238.2V336.4M282.50 238.2V292M287.50 238.2V298M293.50 238.2V357M295.50 238.2V360M300.50 238.2V395.2M303.50 238.2V314.5M311.50 238.2V344.6M312.50 238.2V413.6M313.50 238.2V301.7M326.50 238.2V397.8M327.50 238.2V367.4M328.50 238.2V351.9M334.50 238.2V300.8M336.50 238.2V346.5M340.50 238.2V308.8M352.50 238.2V310.8M359.50 238.2V347.3M360.50 238.2V408.1M361.50 238.2V383M365.50 238.2V399.8M369.50 238.2V354.8M371.50 238.2V413.5M376.50 238.2V383.4M377.50 238.2V391.9M392.50 238.2V294.9M399.50 238.2V432.9M400.50 238.2V315.9M402.50 238.2V361M403.50 238.2V416.2M420.50 238.2V385.1M425.50 238.2V396.2M441.50 238.2V392.4M442.50 238.2V374.6M453.50 238.2V341.5M458.50 238.2V417M467.50 238.2V328.5M480.50 238.2V377.1M485.50 238.2V357.4M486.50 238.2V413.2M490.50 238.2V389.3M492.50 238.2V365.1M493.50 238.2V344.5M497.50 238.2V408.8M499.50 238.2V398M502.50 238.2V367.4M506.50 238.2V310.2M515.50 238.2V309.8M523.50 238.2V364.6M526.50 238.2V294.2M530.50 238.2V326.7M535.50 238.2V329.4M548.50 238.2V313.7M557.50 238.2V369.2M562.50 238.2V361.2M566.50 238.2V391.8M572.50 238.2V386M575.50 238.2V373.9M585.50 238.2V378M587.50 238.2V402.3M589.50 238.2V385.6M598.50 238.2V414.1M599.50 238.2V404.8M603.50 238.2V320.6M610.50 238.2V396.3M640.50 238.2V385.4M642.50 238.2V305.3M648.50 238.2V387.4M652.50 238.2V282.7M662.50 238.2V379.9M670.50 238.2V386.9M671.50 238.2V306.3M678.50 238.2V386"/>
<path stroke="#4094d0" d="M108.50 114.7V238.2M109.50 120.8V238.2M110.50 89.7V238.2M114.50 61.3V238.2M125.50 80.8V238.2M132.50 74.3V238.2M144.50 103.7V238.2M145.50 222.2V238.2M147.50 72.5V238.2M148.50 91.8V238.2M155.50 154.7V238.2M158.50 122.3V238.2M161.50 146.7V238.2M162.50 112.8V238.2M170.50 100V238.2M173.50 127.9V238.2M176.50 97.8V238.2M177.50 105.4V238.2M178.50 90.1V238.2M183.50 144.9V238.2M186.50 95.8V238.2M188.50 148.3V238.2M190.50 174V238.2M191.50 61.9V238.2M194.50 84.5V238.2M197.50 109V238.2M208.50 145.5V238.2M209.50 136.1V238.2M214.50 114.6V238.2M216.50 98.9V238.2M218.50 212.7V238.2M226.50 89.4V238.2M232.50 128.4V238.2M236.50 95V238.2M237.50 163.5V238.2M243.50 121.1V238.2M244.50 109.2V238.2M246.50 113.7V238.2M263.50 171.3V238.2M270.50 165.2V238.2M272.50 107.5V238.2M282.50 89.1V238.2M288.50 71.9V238.2M292.50 150.8V238.2M293.50 100.2V238.2M297.50 85V238.2M298.50 81.7V238.2M299.50 173.8V238.2M300.50 103.3V238.2M306.50 146.8V238.2M309.50 88.2V238.2M314.50 111V238.2M320.50 136.6V238.2M325.50 184.5V238.2M327.50 85.6V238.2M331.50 164.2V238.2M333.50 65.2V238.2M334.50 220.8V238.2M337.50 106.2V238.2M339.50 166.2V238.2M343.50 182.9V238.2M350.50 169.3V238.2M354.50 96.9V238.2M357.50 83.1V238.2M364.50 136.6V238.2M365.50 207.7V238.2M367.50 82.7V238.2M372.50 89.6V238.2M374.50 113.4V238.2M375.50 178.1V238.2M378.50 78.6V238.2M382.50 114.9V238.2M384.50 209.7V238.2M388.50 139V238.2M390.50 81.5V238.2M406.50 152.2V238.2M407.50 105.3V238.2M408.50 174V238.2M413.50 186.8V238.2M423.50 85.2V238.2M427.50 147.4V238.2M437.50 188.9V238.2M440.50 144.6V238.2M441.50 235.7V238.2M444.50 151.1V238.2M446.50 128.4V238.2M468.50 201.2V238.2M473.50 188.9V238.2M481.50 179.8V238.2M484.50 124.6V238.2M487.50 166V238.2M496.50 85.4V238.2M503.50 84.5V238.2M508.50 74.1V238.2M511.50 144.1V238.2M522.50 163.7V238.2M552.50 106.4V238.2M561.50 237.9V238.2M567.50 106.1V238.2M568.50 147.8V238.2M571.50 135.5V238.2M572.50 132V238.2M578.50 41V238.2M583.50 83.5V238.2M584.50 77.9V238.2M611.50 180.7V238.2M621.50 176.8V238.2M623.50 148.3V238.2M628.50 117.1V238.2M629.50 141.5V238.2M634.50 124V238.2M637.50 79.6V238.2M638.50 84.5V238.2M641.50 179.9V238.2M644.50 160V238.2M656.50 167.6V238.2M657.50 89.6V238.2M658.50 197.1V238.2M660.50 182.2V238.2M664.50 107V238.2M674.50 96.3V238.2M676.50 95.1V238.2M678.50 78.1V238.2M104.50 238.2V411.5M105.50 238.2V391.7M112.50 238.2V318.3M126.50 238.2V361.5M133.50 238.2V395M136.50 238.2V345.8M140.50 238.2V295.2M144.50 238.2V371.8M147.50 238.2V381.1M150.50 238.2V394.6M155.50 238.2V388.5M160.50 238.2V355.2M161.50 238.2V350.9M170.50 238.2V369.7M174.50 238.2V358.5M184.50 238.2V340M188.50 238.2V347.2M193.50 238.2V355.6M196.50 238.2V380M199.50 238.2V320.1M210.50 238.2V306M216.50 238.2V368.2M223.50 238.2V271.2M242.50 238.2V359.7M245.50 238.2V399.4M246.50 238.2V325.2M247.50 238.2V371.3M253.50 238.2V387.8M260.50 238.2V392.1M261.50 238.2V395.4M262.50 238.2V402M267.50 238.2V308.5M269.50 238.2V301.8M273.50 238.2V320.7M275.50 238.2V344.9M277.50 238.2V378.7M281.50 238.2V371.7M294.50 238.2V396.6M301.50 238.2V390.5M315.50 238.2V266.4M316.50 238.2V380.7M322.50 238.2V395.5M329.50 238.2V384.2M333.50 238.2V358.5M338.50 238.2V379.3M341.50 238.2V392.5M346.50 238.2V382.5M347.50 238.2V328.9M348.50 238.2V309.7M361.50 238.2V376M370.50 238.2V278.4M375.50 238.2V400.4M380.50 238.2V385.8M397.50 238.2V376.8M399.50 238.2V419.6M403.50 238.2V390.7M410.50 238.2V397.3M413.50 238.2V306.2M414.50 238.2V384.2M421.50 238.2V356M430.50 238.2V421M432.50 238.2V251.4M440.50 238.2V381.9M444.50 238.2V338.4M445.50 238.2V373.1M450.50 238.2V295.4M455.50 238.2V335.8M460.50 238.2V310.9M470.50 238.2V400.8M473.50 238.2V383.1M479.50 238.2V332M488.50 238.2V266.7M491.50 238.2V344.7M495.50 238.2V382.9M513.50 238.2V381.8M527.50 238.2V314.7M529.50 238.2V363M531.50 238.2V384.8M532.50 238.2V415.7M536.50 238.2V392.6M537.50 238.2V341.3M541.50 238.2V381.6M542.50 238.2V355.8M544.50 238.2V417.9M549.50 238.2V362.7M554.50 238.2V318.4M555.50 238.2V299.9M556.50 238.2V410.2M561.50 238.2V429.8M568.50 238.2V344.2M570.50 238.2V316.7M576.50 238.2V406.3M577.50 238.2V417.6M581.50 238.2V285M586.50 238.2V301.2M588.50 238.2V286M593.50 238.2V356.7M617.50 238.2V376.9M628.50 238.2V348M635.50 238.2V374.6M637.50 238.2V369.8M638.50 238.2V290.9M643.50 238.2V406.7M650.50 238.2V396.1M659.50 238.2V375.9M661.50 238.2V349.4"/>
<path stroke="#358ecd" d="M106.50 102.9V238.2M107.50 165.2V238.2M111.50 146.4V238.2M112.50 166.5V238.2M114.50 75.1V238.2M115.50 104.2V238.2M116.50 83.3V238.2M122.50 153.7V238.2M124.50 207V238.2M132.50 108.3V238.2M134.50 90.1V238.2M135.50 188.5V238.2M137.50 101.6V238.2M150.50 174.5V238.2M151.50 163.6V238.2M164.50 73.8V238.2M168.50 164.1V238.2M171.50 111.9V238.2M182.50 124.7V238.2M186.50 102V238.2M189.50 176.8V238.2M196.50 127.1V238.2M198.50 148.1V238.2M204.50 136.4V238.2M205.50 176.8V238.2M212.50 93.6V238.2M219.50 187.5V238.2M223.50 133.8V238.2M225.50 124.5V238.2M227.50 114.6V238.2M228.50 81.3V238.2M230.50 137.9V238.2M235.50 136.9V238.2M238.50 117.5V238.2M245.50 165.7V238.2M248.50 187.1V238.2M251.50 148.4V238.2M252.50 65.5V238.2M253.50 179.2V238.2M254.50 123.1V238.2M257.50 109.3V238.2M261.50 198.3V238.2M269.50 154.7V238.2M277.50 120.5V238.2M278.50 182.1V238.2M284.50 186.7V238.2M285.50 90.7V238.2M289.50 88.1V238.2M295.50 190.4V238.2M303.50 195.5V238.2M310.50 95.6V238.2M315.50 196.6V238.2M317.50 83.9V238.2M319.50 81.8V238.2M323.50 81.1V238.2M324.50 157V238.2M325.50 197V238.2M328.50 136V238.2M330.50 100.8V238.2M349.50 101V238.2M355.50 52.8V238.2M363.50 136.8V238.2M372.50 112.8V238.2M376.50 188.3V238.2M378.50 93.5V238.2M381.50 130.1V238.2M393.50 196.4V238.2M396.50 177.5V238.2M397.50 88.6V238.2M403.50 123.3V238.2M405.50 223.6V238.2M416.50 105V238.2M417.50 115.4V238.2M420.50 208V238.2M422.50 151.1V238.2M429.50 140.3V238.2M436.50 111.3V238.2M449.50 174.7V238.2M457.50 189.6V238.2M467.50 138.2V238.2M471.50 157.3V238.2M475.50 123V238.2M478.50 186.6V238.2M483.50 94.2V238.2M491.50 112.7V238.2M492.50 118.8V238.2M494.50 177.7V238.2M500.50 144.3V238.2M501.50 154V238.2M509.50 169.3V238.2M516.50 96.5V238.2M518.50 76.1V238.2M527.50 92V238.2M530.50 89.3V238.2M537.50 67.3V238.2M547.50 201V238.2M550.50 126.3V238.2M553.50 132.2V238.2M556.50 194.8V238.2M560.50 87.7V238.2M570.50 139.8V238.2M578.50 87V238.2M585.50 158.1V238.2M587.50 79.4V238.2M592.50 132V238.2M600.50 198.4V238.2M610.50 189.8V238.2M619.50 131.3V238.2M622.50 198.2V238.2M626.50 212.3V238.2M630.50 148.5V238.2M637.50 88.8V238.2M642.50 64V238.2M649.50 206.7V238.2M650.50 237.5V238.2M651.50 183V238.2M652.50 185.8V238.2M661.50 157.8V238.2M663.50 219.2V238.2M665.50 149.1V238.2M667.50 68.7V238.2M670.50 145.6V238.2M671.50 102V238.2M674.50 139.8V238.2M106.50 238.2V398.2M109.50 238.2V314.3M111.50 238.2V251.4M120.50 238.2V372.3M122.50 238.2V349.1M125.50 238.2V266.2M135.50 238.2V400.4M138.50 238.2V308M139.50 238.2V283.4M149.50 238.2V409.2M150.50 238.2V360.5M154.50 238.2V390.8M158.50 238.2V374M159.50 238.2V403.6M172.50 238.2V395.1M173.50 238.2V409.9M176.50 238.2V301.5M180.50 238.2V285.1M183.50 238.2V381.4M184.50 238.2V332.4M190.50 238.2V350.1M202.50 238.2V366.6M205.50 238.2V384.5M205.50 238.2V376.6M206.50 238.2V315.4M209.50 238.2V386M217.50 238.2V394.1M218.50 238.2V286M220.50 238.2V362.8M225.50 238.2V344.4M228.50 238.2V319.1M232.50 238.2V304.7M237.50 238.2V292M239.50 238.2V350.2M244.50 238.2V351.9M250.50 238.2V308.8M254.50 238.2V335.9M266.50 238.2V272.6M272.50 238.2V369.1M279.50 238.2V306.2M286.50 238.2V254.3M290.50 238.2V288.6M291.50 238.2V319.3M292.50 238.2V272.6M302.50 238.2V374.2M304.50 238.2V302M309.50 238.2V388.6M317.50 238.2V337.9M321.50 238.2V321.7M323.50 238.2V328M336.50 238.2V331.2M342.50 238.2V323.6M345.50 238.2V367.4M354.50 238.2V252.1M357.50 238.2V344.5M360.50 238.2V402M363.50 238.2V282.7M365.50 238.2V381.7M366.50 238.2V421.9M367.50 238.2V284.3M376.50 238.2V328M381.50 238.2V363.1M389.50 238.2V306.3M390.50 238.2V398.1M393.50 238.2V343.3M401.50 238.2V311.6M407.50 238.2V381.1M416.50 238.2V350.9M421.50 238.2V344.4M422.50 238.2V362.3M424.50 238.2V256.6M427.50 238.2V316.2M443.50 238.2V352.4M446.50 238.2V330.2M454.50 238.2V357.6M457.50 238.2V360.5M463.50 238.2V320.5M471.50 238.2V328.6M474.50 238.2V245M477.50 238.2V343.7M482.50 238.2V331.8M501.50 238.2V349.6M504.50 238.2V318.5M507.50 238.2V379.6M532.50 238.2V404M534.50 238.2V278.8M541.50 238.2V373.5M545.50 238.2V405.1M564.50 238.2V346.2M565.50 238.2V376.7M573.50 238.2V381.3M575.50 238.2V317.1M580.50 238.2V352.5M589.50 238.2V334M593.50 238.2V352.3M601.50 238.2V296.2M604.50 238.2V352.9M606.50 238.2V344.8M611.50 238.2V372.2M624.50 238.2V319.7M626.50 238.2V394.1M627.50 238.2V279.7M629.50 238.2V351.4M631.50 238.2V316.9M633.50 238.2V406.6M644.50 238.2V395.4M646.50 238.2V380.5M648.50 238.2V361.4M653.50 238.2V311.7M665.50 238.2V344.6M669.50 238.2V299.8M673.50 238.2V381.2M674.50 238.2V295.6M676.50 238.2V370.8M678.50 238.2V363.1"/>
<path stroke="#2a88ca" d="M105.50 79.9V238.2M110.50 92.6V238.2M117.50 132.1V238.2M119.50 162.5V238.2M123.50 162.3V238.2M125.50 90.8V238.2M128.50 153.9V238.2M131.50 81.2V238.2M136.50 83V238.2M137.50 145.2V238.2M138.50 119.3V238.2M141.50 85.4V238.2M154.50 134.3V238.2M156.50 160.9V238.2M157.50 106V238.2M167.50 202V238.2M179.50 193.7V238.2M180.50 166.3V238.2M181.50 108V238.2M182.50 169.3V238.2M186.50 140.3V238.2M188.50 218V238.2M192.50 147.7V238.2M193.50 177.4V238.2M197.50 113.2V238.2M199.50 149.3V238.2M207.50 238V238.2M209.50 176.1V238.2M214.50 126V238.2M217.50 42.2V238.2M229.50 179.7V238.2M232.50 150.5V238.2M233.50 121.8V238.2M242.50 187.4V238.2M256.50 87.5V238.2M256.50 94.5V238.2M263.50 184.6V238.2M267.50 112.9V238.2M269.50 179.6V238.2M271.50 173.5V238.2M272.50 160.4V238.2M276.50 137.9V238.2M279.50 171.5V238.2M281.50 173.4V238.2M283.50 112.5V238.2M285.50 104V238.2M290.50 96.7V238.2M294.50 233.9V238.2M300.50 125.7V238.2M308.50 147.6V238.2M313.50 112.9V238.2M314.50 115.2V238.2M322.50 197.9V238.2M329.50 102V238.2M333.50 75.5V238.2M335.50 115.9V238.2M344.50 75.4V238.2M348.50 195.3V238.2M354.50 106.5V238.2M355.50 80.7V238.2M359.50 173.4V238.2M371.50 200.2V238.2M375.50 185.8V238.2M390.50 84.9V238.2M395.50 192.1V238.2M410.50 120V238.2M413.50 188.8V238.2M422.50 202.5V238.2M427.50 174.2V238.2M428.50 161.4V238.2M432.50 126.8V238.2M440.50 228V238.2M441.50 237.9V238.2M443.50 57.2V238.2M451.50 138V238.2M454.50 83.8V238.2M456.50 231.7V238.2M458.50 134.4V238.2M460.50 159.5V238.2M463.50 169.2V238.2M464.50 74.7V238.2M466.50 209.2V238.2M472.50 96.3V238.2M479.50 189.7V238.2M482.50 150.3V238.2M483.50 109.2V238.2M484.50 140.1V238.2M485.50 117.5V238.2M498.50 150.6V238.2M507.50 99.7V238.2M512.50 170V238.2M515.50 227.2V238.2M522.50 187.6V238.2M530.50 105.5V238.2M538.50 106.8V238.2M539.50 171.8V238.2M542.50 79.4V238.2M542.50 91.7V238.2M571.50 159.7V238.2M574.50 146.6V238.2M575.50 131.3V238.2M581.50 135V238.2M582.50 207.6V238.2M583.50 105.7V238.2M601.50 129.3V238.2M603.50 96.5V238.2M605.50 162.9V238.2M607.50 185.8V238.2M609.50 136.7V238.2M615.50 137.6V238.2M616.50 132.6V238.2M621.50 193.7V238.2M633.50 208.5V238.2M634.50 196.9V238.2M635.50 162.4V238.2M648.50 204.2V238.2M656.50 221.9V238.2M657.50 130V238.2M668.50 177.8V238.2M672.50 125V238.2M105.50 238.2V390.3M107.50 238.2V367.1M108.50 238.2V299M113.50 238.2V350.6M116.50 238.2V327.5M117.50 238.2V253.3M121.50 238.2V355.1M124.50 238.2V371M130.50 238.2V330M137.50 238.2V378.6M140.50 238.2V278.6M142.50 238.2V370.1M145.50 238.2V298.5M146.50 238.2V292.7M147.50 238.2V364M152.50 238.2V314.7M155.50 238.2V310.1M157.50 238.2V336.8M160.50 238.2V309.5M161.50 238.2V315.8M164.50 238.2V316.1M167.50 238.2V282.9M170.50 238.2V363.1M171.50 238.2V297.3M173.50 238.2V388.1M179.50 238.2V383.1M181.50 238.2V283.1M182.50 238.2V299.8M186.50 238.2V300.3M187.50 238.2V347.7M191.50 238.2V398.3M192.50 238.2V295.2M198.50 238.2V354.8M207.50 238.2V290.1M208.50 238.2V289.5M211.50 238.2V292.8M213.50 238.2V343.3M226.50 238.2V264.6M230.50 238.2V263.2M231.50 238.2V334.6M242.50 238.2V346.7M245.50 238.2V322M247.50 238.2V341.6M250.50 238.2V251M257.50 238.2V340.6M261.50 238.2V383.9M262.50 238.2V363.1M265.50 238.2V359M268.50 238.2V417.8M274.50 238.2V273.2M276.50 238.2V366M280.50 238.2V277.8M297.50 238.2V350.3M301.50 238.2V383.3M307.50 238.2V312.3M308.50 238.2V353.3M310.50 238.2V386.3M313.50 238.2V287.5M314.50 238.2V360.4M316.50 238.2V367.5M324.50 238.2V292.7M326.50 238.2V387.9M329.50 238.2V375.4M330.50 238.2V411.9M335.50 238.2V372.9M340.50 238.2V277.8M348.50 238.2V290.7M349.50 238.2V385.2M359.50 238.2V306.5M362.50 238.2V363.2M368.50 238.2V356.9M373.50 238.2V270.9M377.50 238.2V358.1M386.50 238.2V287.7M387.50 238.2V353.1M390.50 238.2V354.1M404.50 238.2V304.9M405.50 238.2V401.4M406.50 238.2V287M408.50 238.2V287.8M410.50 238.2V335.2M417.50 238.2V332.1M418.50 238.2V286.3M419.50 238.2V350.5M428.50 238.2V313.2M433.50 238.2V353.7M435.50 238.2V317.6M437.50 238.2V343.8M438.50 238.2V348.6M441.50 238.2V332.1M445.50 238.2V349M448.50 238.2V285.1M452.50 238.2V307.7M458.50 238.2V411.9M462.50 238.2V309.7M470.50 238.2V367.9M476.50 238.2V279.3M478.50 238.2V387.4M482.50 238.2V312.5M486.50 238.2V304.2M489.50 238.2V362.6M490.50 238.2V350.1M502.50 238.2V284.5M506.50 238.2V309.7M509.50 238.2V298.4M511.50 238.2V307.2M512.50 238.2V290.9M514.50 238.2V313M519.50 238.2V383.2M523.50 238.2V342.3M525.50 238.2V347.6M530.50 238.2V299.9M531.50 238.2V355.5M535.50 238.2V323.5M537.50 238.2V281.6M539.50 238.2V348.5M540.50 238.2V291.5M544.50 238.2V390.1M550.50 238.2V355.7M556.50 238.2V392.5M561.50 238.2V372.9M564.50 238.2V336.1M568.50 238.2V274.8M576.50 238.2V381.8M582.50 238.2V365.5M587.50 238.2V371.2M588.50 238.2V275.7M594.50 238.2V351.8M600.50 238.2V384M605.50 238.2V408.8M609.50 238.2V363.6M610.50 238.2V334M615.50 238.2V392.4M616.50 238.2V258.4M618.50 238.2V314.3M619.50 238.2V359.3M620.50 238.2V384.8M622.50 238.2V323.3M628.50 238.2V284.7M633.50 238.2V347.9M634.50 238.2V354.5M637.50 238.2V317.7M641.50 238.2V303.9M643.50 238.2V369.1M648.50 238.2V357.6M650.50 238.2V371.8M651.50 238.2V323.9M652.50 238.2V281.3M657.50 238.2V300.8M663.50 238.2V324.6M664.50 238.2V310.5M668.50 238.2V365.8M669.50 238.2V295.5M670.50 238.2V348.2M672.50 238.2V391M677.50 238.2V341.9"/>
<path stroke="#2082c8" d="M105.50 81.7V238.2M109.50 149.9V238.2M110.50 130.6V238.2M114.50 100.6V238.2M125.50 94.3V238.2M128.50 161.4V238.2M131.50 99.7V238.2M133.50 167.3V238.2M133.50 182.7V238.2M134.50 135.4V238.2M136.50 98.4V238.2M139.50 210V238.2M141.50 89.4V238.2M141.50 114V238.2M143.50 94.8V238.2M144.50 210.7V238.2M147.50 75.8V238.2M148.50 107.3V238.2M149.50 156.1V238.2M152.50 160.4V238.2M158.50 148.2V238.2M160.50 164.9V238.2M161.50 159.8V238.2M162.50 206.2V238.2M166.50 108.2V238.2M174.50 200.2V238.2M176.50 168.8V238.2M178.50 153.5V238.2M181.50 112.5V238.2M190.50 202.5V238.2M191.50 114.3V238.2M194.50 100.2V238.2M195.50 41V238.2M196.50 174.6V238.2M200.50 98.3V238.2M202.50 176.9V238.2M205.50 185.3V238.2M208.50 178.3V238.2M211.50 199V238.2M212.50 222V238.2M215.50 181.4V238.2M216.50 100.6V238.2M217.50 185.8V238.2M218.50 216.9V238.2M223.50 190.7V238.2M224.50 139.8V238.2M228.50 99.8V238.2M230.50 165V238.2M236.50 129.2V238.2M239.50 103.2V238.2M244.50 118.6V238.2M248.50 216.1V238.2M252.50 77.3V238.2M257.50 121.1V238.2M258.50 176.9V238.2M259.50 142.8V238.2M261.50 205.6V238.2M262.50 147V238.2M264.50 207.4V238.2M266.50 224.5V238.2M270.50 176.2V238.2M277.50 151.8V238.2M280.50 212.4V238.2M282.50 164.4V238.2M284.50 207V238.2M288.50 74.1V238.2M290.50 112.3V238.2M292.50 196.3V238.2M293.50 110.9V238.2M297.50 139.3V238.2M301.50 97.7V238.2M310.50 130.5V238.2M316.50 176V238.2M317.50 98.3V238.2M318.50 136.1V238.2M319.50 107.6V238.2M320.50 153.2V238.2M327.50 136.5V238.2M336.50 194.9V238.2M342.50 233.4V238.2M344.50 111.9V238.2M349.50 130.1V238.2M357.50 111.8V238.2M359.50 209.7V238.2M365.50 234.5V238.2M367.50 102V238.2M368.50 197.1V238.2M369.50 155.1V238.2M371.50 215.8V238.2M372.50 147.7V238.2M374.50 151.3V238.2M375.50 199.8V238.2M378.50 157.9V238.2M380.50 181.2V238.2M381.50 152V238.2M383.50 164.4V238.2M385.50 69.4V238.2M388.50 187.6V238.2M397.50 93.4V238.2M398.50 108.5V238.2M399.50 189.7V238.2M401.50 119.9V238.2M402.50 155.7V238.2M403.50 178.4V238.2M404.50 92.6V238.2M405.50 227.6V238.2M407.50 130V238.2M409.50 218.5V238.2M414.50 161V238.2M418.50 192.5V238.2M421.50 81.8V238.2M423.50 197.9V238.2M425.50 172.5V238.2M426.50 162V238.2M430.50 92.7V238.2M433.50 192.6V238.2M435.50 171.8V238.2M436.50 222.2V238.2M443.50 68.6V238.2M448.50 112V238.2M451.50 195.4V238.2M455.50 142.3V238.2M456.50 237.9V238.2M460.50 172.3V238.2M464.50 102.7V238.2M472.50 114.1V238.2M489.50 237.9V238.2M490.50 185.8V238.2M491.50 167.9V238.2M496.50 120.8V238.2M503.50 142.6V238.2M505.50 153.2V238.2M507.50 106.6V238.2M508.50 90.6V238.2M513.50 218.7V238.2M516.50 199.6V238.2M517.50 147.4V238.2M520.50 208.8V238.2M521.50 232.9V238.2M523.50 201.7V238.2M525.50 190.6V238.2M528.50 137V238.2M529.50 135.8V238.2M532.50 146.3V238.2M534.50 189.4V238.2M537.50 133.3V238.2M541.50 177.2V238.2M542.50 129.2V238.2M543.50 184.4V238.2M551.50 186.1V238.2M558.50 183.6V238.2M560.50 162.4V238.2M562.50 170.1V238.2M566.50 129V238.2M568.50 183.2V238.2M569.50 203.4V238.2M576.50 147.2V238.2M578.50 224.9V238.2M579.50 226.1V238.2M585.50 201.2V238.2M595.50 227.7V238.2M598.50 99.1V238.2M604.50 196V238.2M606.50 156.9V238.2M607.50 218.2V238.2M623.50 157.3V238.2M624.50 186.2V238.2M625.50 185V238.2M626.50 217.1V238.2M629.50 229.8V238.2M631.50 128.7V238.2M641.50 191.3V238.2M642.50 75.9V238.2M652.50 206.5V238.2M654.50 105.2V238.2M660.50 207.3V238.2M663.50 233.4V238.2M665.50 164V238.2M667.50 84.9V238.2M671.50 154.9V238.2M676.50 208V238.2M678.50 106V238.2M679.50 234.3V238.2M104.50 238.2V359M104.50 238.2V304.5M109.50 238.2V298M115.50 238.2V382.5M115.50 238.2V343.7M118.50 238.2V340.9M122.50 238.2V261.7M123.50 238.2V341.9M125.50 238.2V258.8M128.50 238.2V310.6M129.50 238.2V378.4M133.50 238.2V289M136.50 238.2V338.8M138.50 238.2V296.3M142.50 238.2V349.5M149.50 238.2V403.4M153.50 238.2V373.4M154.50 238.2V368M155.50 238.2V306.7M156.50 238.2V276.2M158.50 238.2V334M168.50 238.2V304.1M169.50 238.2V322.1M177.50 238.2V293.3M180.50 238.2V282.8M185.50 238.2V385.9M187.50 238.2V300.4M188.50 238.2V295.2M190.50 238.2V339.6M193.50 238.2V321.8M195.50 238.2V254.3M196.50 238.2V347.1M199.50 238.2V294.2M200.50 238.2V321M202.50 238.2V282.5M203.50 238.2V264.5M204.50 238.2V294.8M208.50 238.2V248.9M210.50 238.2V304.6M215.50 238.2V334.2M219.50 238.2V381.6M220.50 238.2V355.8M222.50 238.2V282.8M223.50 238.2V238.3M224.50 238.2V317.7M227.50 238.2V312.9M233.50 238.2V302.5M235.50 238.2V303.4M238.50 238.2V327.5M239.50 238.2V324.2M241.50 238.2V335.8M246.50 238.2V266.7M248.50 238.2V321.2M251.50 238.2V328M252.50 238.2V284.3M254.50 238.2V304.8M256.50 238.2V386.9M256.50 238.2V356.5M260.50 238.2V332.9M261.50 238.2V370.5M262.50 238.2V264.3M270.50 238.2V340.9M279.50 238.2V291.7M280.50 238.2V266.8M285.50 238.2V384.6M285.50 238.2V308.3M288.50 238.2V371.1M290.50 238.2V273.7M291.50 238.2V273.4M297.50 238.2V318.3M299.50 238.2V306.9M315.50 238.2V255.2M316.50 238.2V342.2M317.50 238.2V286.4M318.50 238.2V349.5M320.50 238.2V277.9M322.50 238.2V346.5M326.50 238.2V338.4M328.50 238.2V327.9M330.50 238.2V360.7M331.50 238.2V259.9M336.50 238.2V308.5M337.50 238.2V280M339.50 238.2V317.9M341.50 238.2V352.8M342.50 238.2V297.9M346.50 238.2V365.8M347.50 238.2V297M353.50 238.2V288.8M356.50 238.2V297.6M357.50 238.2V340.1M361.50 238.2V300.5M362.50 238.2V328.4M363.50 238.2V276.8M366.50 238.2V367.2M371.50 238.2V333.2M372.50 238.2V347.4M373.50 238.2V245.2M375.50 238.2V343.4M382.50 238.2V274.6M383.50 238.2V307.2M384.50 238.2V274.6M386.50 238.2V286M392.50 238.2V248.4M393.50 238.2V246.7M394.50 238.2V303.1M395.50 238.2V314.5M396.50 238.2V321.1M399.50 238.2V345.7M407.50 238.2V289.8M411.50 238.2V328M413.50 238.2V297.3M425.50 238.2V385.6M426.50 238.2V336.2M430.50 238.2V417.5M430.50 238.2V406.1M431.50 238.2V310.2M434.50 238.2V296.9M435.50 238.2V273.7M441.50 238.2V327.9M443.50 238.2V303.5M444.50 238.2V312M449.50 238.2V317M453.50 238.2V311.1M454.50 238.2V312M455.50 238.2V320.1M456.50 238.2V279.3M457.50 238.2V294.9M458.50 238.2V401.3M460.50 238.2V247.5M467.50 238.2V241.5M468.50 238.2V275.9M470.50 238.2V303.3M471.50 238.2V284.1M472.50 238.2V358.9M473.50 238.2V369.8M475.50 238.2V299.4M477.50 238.2V306.9M478.50 238.2V335.6M479.50 238.2V265M480.50 238.2V374.8M489.50 238.2V313.8M494.50 238.2V310.9M496.50 238.2V347.5M497.50 238.2V361.5M503.50 238.2V285.7M510.50 238.2V287.3M513.50 238.2V360.2M515.50 238.2V307.6M516.50 238.2V297.9M517.50 238.2V316.9M524.50 238.2V272.9M528.50 238.2V301.3M535.50 238.2V301M536.50 238.2V385.9M537.50 238.2V238.8M541.50 238.2V343.7M543.50 238.2V344.2M545.50 238.2V274.4M547.50 238.2V307.8M548.50 238.2V306.6M549.50 238.2V339.7M550.50 238.2V353.4M551.50 238.2V284M553.50 238.2V265.2M555.50 238.2V272.9M557.50 238.2V351.2M558.50 238.2V391M561.50 238.2V339.4M562.50 238.2V335.9M566.50 238.2V348.5M567.50 238.2V266.4M570.50 238.2V282.9M571.50 238.2V366.5M572.50 238.2V287.8M577.50 238.2V412.3M578.50 238.2V314.4M579.50 238.2V284.6M582.50 238.2V333.3M583.50 238.2V295.1M584.50 238.2V245.6M585.50 238.2V349.9M587.50 238.2V300.2M590.50 238.2V329.2M593.50 238.2V342.5M594.50 238.2V314.3M595.50 238.2V339.8M599.50 238.2V379.5M603.50 238.2V258.5M606.50 238.2V329.5M607.50 238.2V297.4M608.50 238.2V319.8M614.50 238.2V367.5M615.50 238.2V372M617.50 238.2V300M620.50 238.2V366.4M623.50 238.2V297.9M626.50 238.2V339.9M627.50 238.2V272.8M629.50 238.2V269.1M634.50 238.2V350.3M635.50 238.2V324.8M640.50 238.2V321M643.50 238.2V288.9M646.50 238.2V289.9M654.50 238.2V286.3M657.50 238.2V298.1M658.50 238.2V386.1M659.50 238.2V258.5M660.50 238.2V360.4M661.50 238.2V321.3M667.50 238.2V302.3M670.50 238.2V329.1M672.50 238.2V358.2M679.50 238.2V325.8"/>
<path stroke="#157cc5" d="M106.50 129.8V238.2M106.50 152V238.2M109.50 191.3V238.2M111.50 199.3V238.2M114.50 141.6V238.2M115.50 125.1V238.2M117.50 191.2V238.2M123.50 166.1V238.2M125.50 122.1V238.2M129.50 117V238.2M131.50 100.7V238.2M132.50 209.8V238.2M134.50 152.6V238.2M135.50 199.5V238.2M137.50 202.4V238.2M138.50 168.8V238.2M139.50 220.9V238.2M140.50 182V238.2M140.50 200.2V238.2M143.50 153.6V238.2M144.50 223.8V238.2M145.50 233.7V238.2M148.50 162.5V238.2M150.50 176.4V238.2M151.50 190.7V238.2M152.50 188.5V238.2M153.50 211.1V238.2M159.50 129.2V238.2M160.50 210.7V238.2M164.50 145.2V238.2M165.50 165.1V238.2M168.50 175.6V238.2M168.50 182.6V238.2M170.50 160.3V238.2M171.50 159.6V238.2M172.50 141V238.2M173.50 168.1V238.2M176.50 236.7V238.2M177.50 143.8V238.2M179.50 213.7V238.2M180.50 178V238.2M185.50 226.2V238.2M186.50 188.3V238.2M187.50 59.3V238.2M188.50 226.1V238.2M192.50 165.4V238.2M193.50 178.5V238.2M195.50 62.7V238.2M196.50 184.9V238.2M197.50 186.9V238.2M198.50 191.3V238.2M203.50 137.2V238.2M204.50 148.4V238.2M206.50 205.3V238.2M209.50 201.2V238.2M212.50 235V238.2M214.50 130.7V238.2M216.50 181.1V238.2M219.50 206V238.2M221.50 106.7V238.2M222.50 158V238.2M224.50 162.5V238.2M226.50 129.7V238.2M227.50 134.2V238.2M228.50 172.2V238.2M233.50 150.9V238.2M235.50 147V238.2M237.50 211.1V238.2M239.50 113.6V238.2M241.50 204.1V238.2M243.50 171.6V238.2M246.50 147V238.2M250.50 148V238.2M252.50 79.4V238.2M254.50 155.3V238.2M254.50 196V238.2M255.50 152.5V238.2M256.50 146.9V238.2M257.50 173.8V238.2M262.50 187.7V238.2M263.50 227.4V238.2M264.50 222.5V238.2M267.50 213.5V238.2M271.50 208.7V238.2M278.50 201.8V238.2M280.50 212.4V238.2M283.50 134V238.2M288.50 83.4V238.2M289.50 160.2V238.2M294.50 234V238.2M298.50 153.9V238.2M298.50 154.4V238.2M299.50 207.2V238.2M300.50 166.9V238.2M304.50 222.3V238.2M305.50 221.2V238.2M306.50 234V238.2M308.50 161.3V238.2M309.50 173.2V238.2M310.50 196V238.2M311.50 204.9V238.2M313.50 202V238.2M316.50 188.8V238.2M318.50 160.9V238.2M320.50 211.7V238.2M322.50 218.5V238.2M323.50 152.2V238.2M324.50 210.7V238.2M325.50 220.9V238.2M329.50 107.8V238.2M330.50 169.1V238.2M333.50 96V238.2M334.50 222.2V238.2M335.50 126.5V238.2M341.50 179.2V238.2M343.50 186.4V238.2M344.50 159.9V238.2M349.50 175.1V238.2M350.50 189.9V238.2M351.50 78.5V238.2M352.50 198.3V238.2M353.50 228.3V238.2M354.50 158.8V238.2M355.50 81.2V238.2M360.50 167.1V238.2M361.50 180V238.2M363.50 153.1V238.2M368.50 223.4V238.2M369.50 187.2V238.2M374.50 236V238.2M377.50 141.3V238.2M378.50 195.2V238.2M382.50 196.6V238.2M385.50 74.3V238.2M387.50 168.6V238.2M391.50 207.5V238.2M393.50 210.8V238.2M397.50 165.5V238.2M400.50 164.1V238.2M406.50 157.9V238.2M408.50 232.4V238.2M413.50 211.4V238.2M416.50 121.3V238.2M420.50 208.8V238.2M421.50 139.8V238.2M422.50 207.5V238.2M427.50 176.9V238.2M428.50 189.1V238.2M430.50 111.1V238.2M432.50 153.9V238.2M437.50 222.8V238.2M438.50 193.5V238.2M439.50 217.6V238.2M443.50 99.5V238.2M444.50 221.4V238.2M446.50 178.8V238.2M449.50 210.2V238.2M452.50 189.3V238.2M453.50 153.9V238.2M454.50 88.6V238.2M455.50 155.9V238.2M458.50 211.3V238.2M460.50 231V238.2M462.50 125.4V238.2M464.50 158.7V238.2M465.50 148.7V238.2M467.50 166.9V238.2M468.50 203.1V238.2M471.50 163.2V238.2M472.50 136.8V238.2M473.50 214.3V238.2M474.50 181.4V238.2M475.50 207.4V238.2M477.50 153.8V238.2M477.50 195.8V238.2M481.50 182.7V238.2M485.50 149.7V238.2M491.50 187V238.2M493.50 224.1V238.2M494.50 226.9V238.2M496.50 150.5V238.2M497.50 220.9V238.2M498.50 179.6V238.2M501.50 199.4V238.2M503.50 195.1V238.2M505.50 224V238.2M507.50 151V238.2M512.50 170.8V238.2M515.50 237.9V238.2M516.50 209.7V238.2M517.50 163.2V238.2M518.50 100V238.2M526.50 167.8V238.2M527.50 112.9V238.2M532.50 164.4V238.2M534.50 195.8V238.2M539.50 199.4V238.2M546.50 231.1V238.2M547.50 226.5V238.2M550.50 195V238.2M551.50 217.3V238.2M552.50 211.3V238.2M553.50 163.5V238.2M554.50 177.1V238.2M555.50 124.5V238.2M556.50 231V238.2M559.50 167.2V238.2M562.50 176.2V238.2M565.50 149.9V238.2M566.50 185V238.2M570.50 208.4V238.2M573.50 158.6V238.2M579.50 237.9V238.2M580.50 158.7V238.2M584.50 230.8V238.2M585.50 237.9V238.2M587.50 222.2V238.2M588.50 197.8V238.2M593.50 167.9V238.2M597.50 115.5V238.2M599.50 198V238.2M602.50 195.7V238.2M603.50 129.5V238.2M605.50 174.3V238.2M609.50 186.1V238.2M611.50 224.2V238.2M613.50 184.7V238.2M615.50 161.8V238.2M617.50 178.1V238.2M618.50 155.3V238.2M619.50 208.2V238.2M629.50 237.9V238.2M630.50 158.5V238.2M636.50 166.9V238.2M637.50 152.3V238.2M646.50 134.1V238.2M648.50 228.7V238.2M649.50 215.1V238.2M650.50 237.9V238.2M651.50 188.6V238.2M653.50 202.6V238.2M654.50 107.4V238.2M655.50 169.1V238.2M657.50 183.2V238.2M658.50 220.7V238.2M659.50 190.7V238.2M660.50 237.9V238.2M664.50 128.9V238.2M666.50 190.5V238.2M668.50 194.8V238.2M669.50 127.6V238.2M670.50 217V238.2M671.50 232.8V238.2M674.50 165.2V238.2M678.50 132.2V238.2M679.50 237.9V238.2M104.50 238.2V298.8M106.50 238.2V384.9M107.50 238.2V252.4M108.50 238.2V285.7M109.50 238.2V295M110.50 238.2V261.6M116.50 238.2V260.7M119.50 238.2V329.7M120.50 238.2V352.7M121.50 238.2V276.6M123.50 238.2V308.8M125.50 238.2V239.7M126.50 238.2V293.8M127.50 238.2V344.2M131.50 238.2V283.5M143.50 238.2V362.4M146.50 238.2V285.3M147.50 238.2V326.3M149.50 238.2V333.3M151.50 238.2V339.1M154.50 238.2V274.9M157.50 238.2V320.2M159.50 238.2V295.8M163.50 238.2V275M168.50 238.2V276.6M169.50 238.2V305.3M172.50 238.2V345.7M173.50 238.2V370.9M176.50 238.2V266.1M178.50 238.2V305.5M180.50 238.2V274.3M181.50 238.2V250.8M183.50 238.2V251M185.50 238.2V369.5M187.50 238.2V287.9M190.50 238.2V321M192.50 238.2V239M195.50 238.2V247.1M198.50 238.2V297.2M201.50 238.2V312.5M205.50 238.2V375.7M206.50 238.2V307.6M207.50 238.2V244.3M209.50 238.2V260.9M210.50 238.2V270M211.50 238.2V280.3M213.50 238.2V322.7M214.50 238.2V329.8M215.50 238.2V285.2M216.50 238.2V288.4M217.50 238.2V388.3M217.50 238.2V343.5M219.50 238.2V316.7M220.50 238.2V307.2M222.50 238.2V254.3M226.50 238.2V250.6M231.50 238.2V327.4M232.50 238.2V285.8M234.50 238.2V241.2M238.50 238.2V321.8M239.50 238.2V257.3M240.50 238.2V277.1M241.50 238.2V308.6M243.50 238.2V390.3M244.50 238.2V259.3M247.50 238.2V331.9M247.50 238.2V300.7M250.50 238.2V248.1M252.50 238.2V277M253.50 238.2V340.6M253.50 238.2V336.1M255.50 238.2V327.4M255.50 238.2V319M259.50 238.2V266M268.50 238.2V349.1M269.50 238.2V272.6M273.50 238.2V298.7M274.50 238.2V271.2M275.50 238.2V316.8M276.50 238.2V287.8M276.50 238.2V281M277.50 238.2V355.6M282.50 238.2V256M284.50 238.2V312M286.50 238.2V250.2M287.50 238.2V295.4M292.50 238.2V250.7M293.50 238.2V293.7M294.50 238.2V393.3M295.50 238.2V305.8M297.50 238.2V289.9M298.50 238.2V301.2M298.50 238.2V298.6M300.50 238.2V273.7M302.50 238.2V347.5M303.50 238.2V276.7M306.50 238.2V266.8M310.50 238.2V340.2M311.50 238.2V290.5M315.50 238.2V241M316.50 238.2V266.5M318.50 238.2V349.3M320.50 238.2V238.3M323.50 238.2V309.1M324.50 238.2V279.7M326.50 238.2V315.8M327.50 238.2V313.1M329.50 238.2V368.6M330.50 238.2V321.1M332.50 238.2V319.9M334.50 238.2V280.4M335.50 238.2V356.4M335.50 238.2V290.4M336.50 238.2V267.7M338.50 238.2V359.8M341.50 238.2V281.7M342.50 238.2V268.5M344.50 238.2V349.2M345.50 238.2V364.9M346.50 238.2V247.7M347.50 238.2V286.3M349.50 238.2V328.1M352.50 238.2V282.1M356.50 238.2V266.5M360.50 238.2V392.4M365.50 238.2V338M366.50 238.2V274.4M370.50 238.2V251.6M375.50 238.2V334.2M376.50 238.2V243.9M377.50 238.2V286.4M378.50 238.2V276.7M379.50 238.2V262.8M380.50 238.2V330M385.50 238.2V251.8M387.50 238.2V285.2M389.50 238.2V272.5M390.50 238.2V345.5M391.50 238.2V342.1M402.50 238.2V298.9M403.50 238.2V358.2M405.50 238.2V363.2M412.50 238.2V284.5M413.50 238.2V290.7M414.50 238.2V261.3M416.50 238.2V312.4M417.50 238.2V303.3M419.50 238.2V336.8M420.50 238.2V341.3M421.50 238.2V293.9M423.50 238.2V336.6M425.50 238.2V320.5M427.50 238.2V284.5M428.50 238.2V299.8M428.50 238.2V299.3M431.50 238.2V266.9M432.50 238.2V247M433.50 238.2V262.8M435.50 238.2V270.9M437.50 238.2V257.2M439.50 238.2V290.9M442.50 238.2V282.5M443.50 238.2V285.3M445.50 238.2V263.8M446.50 238.2V301.5M453.50 238.2V298.8M455.50 238.2V275.5M456.50 238.2V265.7M459.50 238.2V308.1M464.50 238.2V256.3M465.50 238.2V267.4M468.50 238.2V263.7M471.50 238.2V282.7M473.50 238.2V345.2M485.50 238.2V326.1M487.50 238.2V323.5M488.50 238.2V264.9M489.50 238.2V288.9M491.50 238.2V251M492.50 238.2V294.1M493.50 238.2V330.9M496.50 238.2V255.5M499.50 238.2V273.3M500.50 238.2V324.5M500.50 238.2V317M501.50 238.2V323.1M504.50 238.2V299.2M505.50 238.2V345.4M507.50 238.2V260.4M510.50 238.2V240.3M511.50 238.2V272.1M514.50 238.2V274.3M519.50 238.2V334.2M522.50 238.2V303.1M523.50 238.2V308.6M525.50 238.2V315.7M526.50 238.2V280.1M530.50 238.2V296.1M532.50 238.2V305.2M536.50 238.2V349.7M540.50 238.2V270.3M546.50 238.2V298.2M547.50 238.2V294.2M553.50 238.2V254.7M554.50 238.2V293.2M555.50 238.2V260.7M556.50 238.2V388.6M557.50 238.2V300.4M557.50 238.2V255M559.50 238.2V333.2M560.50 238.2V371.1M561.50 238.2V329.9M564.50 238.2V320.6M565.50 238.2V355.3M568.50 238.2V250.5M573.50 238.2V357.3M576.50 238.2V326.2M577.50 238.2V405.1M578.50 238.2V299M579.50 238.2V247.4M581.50 238.2V253.4M586.50 238.2V297.9M589.50 238.2V313.5M592.50 238.2V281.4M599.50 238.2V319.8M604.50 238.2V332.9M605.50 238.2V329.1M607.50 238.2V286.7M608.50 238.2V314.4M609.50 238.2V326.7M613.50 238.2V268.3M614.50 238.2V340.5M615.50 238.2V346.4M616.50 238.2V252.7M618.50 238.2V310M618.50 238.2V256.6M619.50 238.2V356.8M620.50 238.2V304M624.50 238.2V277.8M625.50 238.2V357.3M628.50 238.2V262.7M629.50 238.2V267.1M631.50 238.2V241.6M632.50 238.2V308.1M634.50 238.2V284.7M636.50 238.2V318.4M642.50 238.2V279.1M644.50 238.2V318.3M645.50 238.2V335.6M651.50 238.2V289.2M653.50 238.2V281.2M654.50 238.2V266.9M659.50 238.2V249.1M661.50 238.2V318.2M664.50 238.2V278.1M670.50 238.2V284.4M674.50 238.2V275.7M676.50 238.2V357.6"/>
<path stroke="#0b76c3" d="M105.50 181V238.2M105.50 207.6V238.2M106.50 167.1V238.2M107.50 182.2V238.2M108.50 118.5V238.2M108.50 138.6V238.2M109.50 204.1V238.2M111.50 216.4V238.2M112.50 179.1V238.2M114.50 209.3V238.2M115.50 155.7V238.2M116.50 110.3V238.2M117.50 195.4V238.2M117.50 214.8V238.2M118.50 204.3V238.2M118.50 235.6V238.2M119.50 198.1V238.2M119.50 199.2V238.2M120.50 181.2V238.2M120.50 184.3V238.2M122.50 166.6V238.2M123.50 174.5V238.2M124.50 229.2V238.2M125.50 178.6V238.2M128.50 212.7V238.2M128.50 219.5V238.2M129.50 136.7V238.2M130.50 168.4V238.2M131.50 148.8V238.2M132.50 216V238.2M133.50 194.6V238.2M134.50 172.7V238.2M136.50 146.2V238.2M136.50 217.7V238.2M137.50 211.9V238.2M147.50 110.7V238.2M149.50 182.2V238.2M150.50 218.3V238.2M151.50 201.7V238.2M152.50 198.1V238.2M153.50 226.7V238.2M154.50 165.5V238.2M155.50 175.7V238.2M156.50 206.6V238.2M159.50 149.9V238.2M160.50 211.6V238.2M161.50 214.4V238.2M162.50 209.9V238.2M164.50 171.4V238.2M165.50 213V238.2M166.50 183.1V238.2M167.50 211.1V238.2M168.50 200.3V238.2M170.50 191.4V238.2M171.50 182.2V238.2M177.50 153.9V238.2M178.50 181.1V238.2M180.50 187.5V238.2M181.50 163.4V238.2M182.50 186.3V238.2M183.50 182.1V238.2M186.50 194.5V238.2M186.50 233.1V238.2M187.50 70.3V238.2M187.50 83.4V238.2M189.50 220V238.2M190.50 231.8V238.2M191.50 168.3V238.2M191.50 202.8V238.2M191.50 207.5V238.2M192.50 172.3V238.2M192.50 183.3V238.2M193.50 183.7V238.2M194.50 167.1V238.2M195.50 64.8V238.2M195.50 134.8V238.2M195.50 151.8V238.2M197.50 209.4V238.2M197.50 210.6V238.2M198.50 228V238.2M200.50 194.6V238.2M200.50 227.2V238.2M202.50 204.5V238.2M203.50 201.9V238.2M203.50 226.8V238.2M205.50 234.4V238.2M206.50 224.6V238.2M208.50 192.9V238.2M210.50 191.1V238.2M214.50 161.7V238.2M215.50 184.9V238.2M217.50 197.2V238.2M219.50 216.5V238.2M221.50 145V238.2M221.50 162.7V238.2M222.50 221.1V238.2M223.50 211.2V238.2M224.50 192.5V238.2M224.50 192.7V238.2M225.50 213.4V238.2M226.50 155.1V238.2M227.50 149.5V238.2M227.50 195.5V238.2M228.50 235.3V238.2M229.50 182.7V238.2M230.50 176.9V238.2M232.50 221.1V238.2M232.50 230.2V238.2M233.50 157.8V238.2M236.50 175.5V238.2M236.50 234.2V238.2M237.50 226.2V238.2M238.50 236.8V238.2M239.50 152.6V238.2M241.50 213.4V238.2M241.50 214.1V238.2M242.50 190.5V238.2M244.50 180.4V238.2M245.50 231.6V238.2M246.50 159.2V238.2M248.50 226.5V238.2M250.50 149.4V238.2M250.50 175.6V238.2M251.50 150.9V238.2M253.50 219.5V238.2M254.50 198.5V238.2M255.50 173.9V238.2M256.50 174V238.2M258.50 208.4V238.2M261.50 219.6V238.2M262.50 226.9V238.2M265.50 197.8V238.2M265.50 235.5V238.2M267.50 231.7V238.2M272.50 169V238.2M273.50 146.9V238.2M276.50 191.8V238.2M277.50 159.1V238.2M279.50 191.6V238.2M280.50 221.5V238.2M282.50 210.6V238.2M282.50 210.7V238.2M283.50 152.6V238.2M285.50 173V238.2M288.50 159.3V238.2M289.50 179.2V238.2M289.50 210.1V238.2M290.50 169.8V238.2M291.50 176.2V238.2M292.50 221.8V238.2M293.50 189.4V238.2M297.50 144.8V238.2M297.50 148.2V238.2M298.50 197.6V238.2M301.50 103.7V238.2M301.50 145.8V238.2M302.50 207.5V238.2M303.50 201.8V238.2M308.50 171.5V238.2M308.50 200.4V238.2M309.50 196.9V238.2M312.50 164.1V238.2M313.50 202.2V238.2M314.50 193.9V238.2M315.50 205V238.2M315.50 232.1V238.2M316.50 233V238.2M317.50 132.9V238.2M319.50 135.4V238.2M319.50 209.6V238.2M324.50 234.1V238.2M325.50 236.2V238.2M327.50 148.1V238.2M327.50 188.8V238.2M328.50 189.6V238.2M329.50 169.7V238.2M329.50 169.9V238.2M330.50 199.9V238.2M331.50 187.3V238.2M331.50 211.9V238.2M335.50 176.3V238.2M336.50 196.8V238.2M336.50 230V238.2M337.50 166.8V238.2M337.50 233.4V238.2M339.50 201.6V238.2M341.50 224.8V238.2M341.50 225.9V238.2M343.50 216.2V238.2M344.50 181.9V238.2M344.50 212.2V238.2M345.50 188.3V238.2M345.50 203.4V238.2M349.50 234.4V238.2M350.50 209.6V238.2M351.50 120.2V238.2M351.50 195.4V238.2M352.50 223.6V238.2M353.50 236.7V238.2M354.50 194.3V238.2M355.50 85.5V238.2M355.50 185.6V238.2M357.50 212.5V238.2M358.50 136.2V238.2M358.50 189.5V238.2M359.50 213.5V238.2M360.50 197.5V238.2M360.50 230.9V238.2M361.50 219.9V238.2M364.50 198.2V238.2M364.50 201.4V238.2M367.50 103V238.2M368.50 231.9V238.2M369.50 191.6V238.2M372.50 236.6V238.2M372.50 237.9V238.2M373.50 182.9V238.2M373.50 189.1V238.2M376.50 218.1V238.2M377.50 148.1V238.2M377.50 195.4V238.2M378.50 236.7V238.2M380.50 216.8V238.2M380.50 224.7V238.2M380.50 227.6V238.2M381.50 198.8V238.2M384.50 223.8V238.2M385.50 83.3V238.2M385.50 96.6V238.2M386.50 147.8V238.2M387.50 221.7V238.2M388.50 192.3V238.2M388.50 211.7V238.2M390.50 202.6V238.2M395.50 193.5V238.2M397.50 216.2V238.2M398.50 121.7V238.2M399.50 206.6V238.2M400.50 224.7V238.2M400.50 226.9V238.2M401.50 220.4V238.2M401.50 237.9V238.2M402.50 156.8V238.2M402.50 220.8V238.2M403.50 197.9V238.2M404.50 138.9V238.2M406.50 177.6V238.2M409.50 238V238.2M410.50 220.5V238.2M410.50 220.9V238.2M414.50 177.2V238.2M414.50 204.7V238.2M416.50 121.6V238.2M416.50 184.8V238.2M417.50 163V238.2M419.50 217.3V238.2M420.50 237.9V238.2M421.50 164.7V238.2M422.50 231V238.2M423.50 199.3V238.2M423.50 228.4V238.2M425.50 176V238.2M426.50 196.5V238.2M426.50 233.8V238.2M428.50 214.2V238.2M429.50 144.4V238.2M430.50 136.3V238.2M433.50 193.9V238.2M433.50 210.1V238.2M435.50 234.9V238.2M438.50 217.5V238.2M439.50 236.9V238.2M440.50 232.7V238.2M443.50 191.1V238.2M443.50 210.3V238.2M444.50 233.9V238.2M448.50 159.2V238.2M449.50 231.8V238.2M450.50 183.7V238.2M451.50 218V238.2M452.50 199.9V238.2M453.50 177.8V238.2M454.50 190.6V238.2M455.50 179.1V238.2M457.50 207.8V238.2M459.50 169.5V238.2M462.50 189.3V238.2M462.50 237.9V238.2M463.50 179.7V238.2M463.50 206.3V238.2M464.50 170.2V238.2M465.50 156.6V238.2M466.50 237.5V238.2M467.50 200.5V238.2M468.50 234.9V238.2M471.50 237.9V238.2M472.50 156.2V238.2M472.50 229.4V238.2M473.50 225.7V238.2M474.50 204.3V238.2M475.50 210.3V238.2M476.50 174V238.2M476.50 187.8V238.2M479.50 196.3V238.2M483.50 217.4V238.2M484.50 198.2V238.2M485.50 203.3V238.2M485.50 210.3V238.2M487.50 167.8V238.2M489.50 237.9V238.2M490.50 232.7V238.2M491.50 194V238.2M492.50 157.9V238.2M493.50 230.5V238.2M494.50 235.2V238.2M496.50 171.6V238.2M497.50 234.9V238.2M498.50 230.2V238.2M498.50 237.9V238.2M500.50 198.1V238.2M501.50 227.9V238.2M501.50 237.9V238.2M502.50 102.4V238.2M503.50 207.6V238.2M503.50 237.9V238.2M504.50 161.5V238.2M507.50 192.2V238.2M508.50 154.9V238.2M509.50 193.4V238.2M510.50 176.8V238.2M510.50 220.2V238.2M511.50 226V238.2M512.50 237.9V238.2M517.50 220.4V238.2M517.50 233.7V238.2M520.50 211.7V238.2M520.50 227.7V238.2M521.50 237.9V238.2M522.50 217.9V238.2M525.50 237.9V238.2M526.50 177.8V238.2M527.50 160.9V238.2M528.50 147.7V238.2M528.50 203.4V238.2M529.50 197.2V238.2M529.50 214.6V238.2M529.50 237.9V238.2M530.50 221.4V238.2M531.50 181.4V238.2M533.50 223.7V238.2M534.50 237.9V238.2M535.50 178.6V238.2M535.50 184V238.2M537.50 202.8V238.2M538.50 187V238.2M538.50 225.5V238.2M538.50 227.9V238.2M539.50 219.1V238.2M541.50 225.7V238.2M542.50 177.7V238.2M544.50 197.7V238.2M546.50 232.2V238.2M546.50 237.8V238.2M549.50 161.9V238.2M549.50 176.9V238.2M550.50 237.9V238.2M551.50 221.1V238.2M552.50 227.5V238.2M554.50 183.6V238.2M554.50 193.6V238.2M555.50 174.5V238.2M556.50 237.9V238.2M557.50 201.5V238.2M557.50 208.8V238.2M559.50 170.3V238.2M559.50 202.6V238.2M560.50 178.9V238.2M560.50 232.7V238.2M562.50 193.9V238.2M565.50 173.5V238.2M566.50 195.5V238.2M567.50 140V238.2M567.50 219.4V238.2M568.50 198V238.2M569.50 228V238.2M569.50 237.9V238.2M571.50 230.6V238.2M572.50 213.5V238.2M573.50 187.2V238.2M573.50 237.9V238.2M574.50 201.9V238.2M575.50 159V238.2M579.50 237.9V238.2M580.50 228.3V238.2M581.50 210.6V238.2M582.50 237.9V238.2M583.50 160.5V238.2M583.50 177.1V238.2M583.50 180.9V238.2M584.50 236.8V238.2M586.50 158.6V238.2M586.50 168.9V238.2M588.50 205.5V238.2M590.50 191.8V238.2M590.50 204.4V238.2M592.50 144.5V238.2M592.50 193.1V238.2M595.50 237.9V238.2M597.50 176.4V238.2M598.50 156.7V238.2M599.50 202V238.2M600.50 201V238.2M600.50 237.9V238.2M601.50 193.4V238.2M601.50 223.6V238.2M602.50 222.4V238.2M604.50 229.2V238.2M605.50 231V238.2M606.50 205.8V238.2M607.50 232.8V238.2M607.50 237.9V238.2M609.50 220.6V238.2M610.50 194.7V238.2M611.50 237.9V238.2M613.50 185V238.2M615.50 187.7V238.2M615.50 225.5V238.2M616.50 144.4V238.2M617.50 180V238.2M618.50 158.8V238.2M621.50 209.6V238.2M621.50 218.5V238.2M622.50 202.7V238.2M623.50 171.2V238.2M625.50 210V238.2M627.50 169.2V238.2M627.50 227.9V238.2M628.50 142V238.2M631.50 177.1V238.2M631.50 204.3V238.2M631.50 237.9V238.2M633.50 213.8V238.2M634.50 222.9V238.2M636.50 205.1V238.2M638.50 158.6V238.2M641.50 201.4V238.2M641.50 237.9V238.2M642.50 219.6V238.2M643.50 208.7V238.2M643.50 208.7V238.2M644.50 177.7V238.2M644.50 194.1V238.2M646.50 155.3V238.2M648.50 237.9V238.2M652.50 217.9V238.2M653.50 237.9V238.2M654.50 134.1V238.2M655.50 198.5V238.2M656.50 237.9V238.2M657.50 220.9V238.2M658.50 237.9V238.2M664.50 197.3V238.2M664.50 211.7V238.2M665.50 209.1V238.2M666.50 191.5V238.2M667.50 185V238.2M667.50 193.5V238.2M669.50 181.6V238.2M669.50 237.9V238.2M670.50 230.3V238.2M672.50 180.6V238.2M674.50 217.9V238.2M674.50 237.9V238.2M676.50 225.1V238.2M677.50 167.2V238.2M678.50 133.5V238.2M678.50 187.9V238.2M104.50 238.2V268M105.50 238.2V260.1M106.50 238.2V339.1M106.50 238.2V239.4M107.50 238.2V242.4M108.50 238.2V255.8M110.50 238.2V243.1M112.50 238.2V305.4M112.50 238.2V272.1M113.50 238.2V291.4M115.50 238.2V334.4M116.50 238.2V246.5M116.50 238.2V241.8M117.50 238.2V243.7M118.50 238.2V285.7M118.50 238.2V279.4M119.50 238.2V317.6M119.50 238.2V294.7M120.50 238.2V305.3M123.50 238.2V290.7M124.50 238.2V296.1M124.50 238.2V286.7M126.50 238.2V263.9M127.50 238.2V339.8M127.50 238.2V286.3M128.50 238.2V273.4M128.50 238.2V255.7M129.50 238.2V352.3M129.50 238.2V315.1M130.50 238.2V290.8M130.50 238.2V263.2M133.50 238.2V251.4M134.50 238.2V295.6M135.50 238.2V288.6M136.50 238.2V318.7M137.50 238.2V316.2M138.50 238.2V261.3M139.50 238.2V281.9M140.50 238.2V239.5M142.50 238.2V290.7M142.50 238.2V264.1M143.50 238.2V362M144.50 238.2V277.1M144.50 238.2V254.1M147.50 238.2V271.6M147.50 238.2V264.3M149.50 238.2V292.4M150.50 238.2V265.5M151.50 238.2V322M152.50 238.2V304.1M152.50 238.2V284.7M153.50 238.2V292.6M154.50 238.2V249.4M155.50 238.2V294.1M156.50 238.2V245.5M157.50 238.2V293.5M158.50 238.2V327.2M158.50 238.2V313.5M159.50 238.2V288.5M160.50 238.2V300.3M160.50 238.2V286.1M160.50 238.2V258.1M161.50 238.2V279.4M161.50 238.2V261.9M163.50 238.2V255.4M164.50 238.2V302M166.50 238.2V285.9M166.50 238.2V270.4M167.50 238.2V262.4M167.50 238.2V239.3M168.50 238.2V270.7M169.50 238.2V253M170.50 238.2V355.8M170.50 238.2V306.3M171.50 238.2V280.7M172.50 238.2V280M172.50 238.2V260.8M173.50 238.2V324.4M174.50 238.2V290.7M177.50 238.2V276.1M177.50 238.2V241.8M178.50 238.2V297.3M179.50 238.2V343.4M182.50 238.2V289.5M184.50 238.2V306.8M184.50 238.2V253.4M185.50 238.2V320M185.50 238.2V303.1M186.50 238.2V283.6M186.50 238.2V276.6M188.50 238.2V242.9M190.50 238.2V294.9M191.50 238.2V248.8M193.50 238.2V271.6M194.50 238.2V273.9M196.50 238.2V303.5M198.50 238.2V285.4M199.50 238.2V251.6M200.50 238.2V284.7M201.50 238.2V297.2M202.50 238.2V258.4M203.50 238.2V256.1M205.50 238.2V326.4M206.50 238.2V252.1M210.50 238.2V264.5M211.50 238.2V265.4M213.50 238.2V266.5M214.50 238.2V261.7M214.50 238.2V245.8M216.50 238.2V260.2M218.50 238.2V275.9M219.50 238.2V312.2M220.50 238.2V301.1M222.50 238.2V247M224.50 238.2V315.9M225.50 238.2V319.1M227.50 238.2V291.6M228.50 238.2V269.6M232.50 238.2V254M233.50 238.2V294.1M237.50 238.2V281.8M237.50 238.2V244.9M238.50 238.2V302.8M240.50 238.2V248.3M242.50 238.2V280.1M242.50 238.2V249.1M243.50 238.2V298.7M245.50 238.2V271.2M247.50 238.2V284.8M251.50 238.2V288.8M251.50 238.2V270.7M252.50 238.2V270M254.50 238.2V245M255.50 238.2V306.8M256.50 238.2V271.4M258.50 238.2V338M258.50 238.2V327.7M259.50 238.2V256.3M259.50 238.2V244.7M260.50 238.2V332.3M261.50 238.2V302.2M262.50 238.2V252M264.50 238.2V288.3M265.50 238.2V336.4M266.50 238.2V265.7M267.50 238.2V289M267.50 238.2V278.1M268.50 238.2V293.5M270.50 238.2V306.2M272.50 238.2V312.5M272.50 238.2V284.2M273.50 238.2V290.6M273.50 238.2V290.3M274.50 238.2V260M275.50 238.2V264.6M277.50 238.2V256.1M281.50 238.2V279.7M283.50 238.2V274.3M283.50 238.2V250.4M284.50 238.2V278.1M285.50 238.2V276.4M288.50 238.2V362.6M290.50 238.2V241.2M293.50 238.2V242M294.50 238.2V307.3M299.50 238.2V288.7M300.50 238.2V247M301.50 238.2V284M303.50 238.2V257.5M304.50 238.2V300.5M306.50 238.2V262.1M307.50 238.2V303.1M308.50 238.2V255.4M308.50 238.2V239.1M309.50 238.2V297.7M309.50 238.2V271M310.50 238.2V244.4M311.50 238.2V273.4M312.50 238.2V316.5M313.50 238.2V272.8M314.50 238.2V288.8M314.50 238.2V255.9M317.50 238.2V261.5M318.50 238.2V270.5M321.50 238.2V297M322.50 238.2V318.6M322.50 238.2V296.3M323.50 238.2V256.8M323.50 238.2V254.7M324.50 238.2V275.1M324.50 238.2V273M326.50 238.2V262M327.50 238.2V306.4M328.50 238.2V300.9M329.50 238.2V261.6M330.50 238.2V309M330.50 238.2V288.4M331.50 238.2V256.7M333.50 238.2V335.4M335.50 238.2V289.8M336.50 238.2V255.3M337.50 238.2V252.8M339.50 238.2V300.8M342.50 238.2V262.8M344.50 238.2V330.9M344.50 238.2V263.5M345.50 238.2V241.8M346.50 238.2V246.5M348.50 238.2V254.8M349.50 238.2V304.4M350.50 238.2V294.1M350.50 238.2V273.4M352.50 238.2V270M353.50 238.2V270.5M354.50 238.2V242.2M355.50 238.2V343.1M355.50 238.2V309.1M356.50 238.2V259M357.50 238.2V308.1M357.50 238.2V306.3M359.50 238.2V301.9M360.50 238.2V294.7M361.50 238.2V243.6M362.50 238.2V324.4M365.50 238.2V264.8M367.50 238.2V266.4M368.50 238.2V314M368.50 238.2V286.9M369.50 238.2V336M369.50 238.2V324.2M370.50 238.2V246.9M370.50 238.2V245.6M371.50 238.2V309.8M372.50 238.2V299.7M372.50 238.2V269.1M377.50 238.2V250.1M381.50 238.2V337.6M381.50 238.2V320.2M383.50 238.2V264.1M383.50 238.2V258.9M384.50 238.2V271.7M385.50 238.2V251.8M386.50 238.2V270.1M387.50 238.2V257.8M389.50 238.2V251.4M390.50 238.2V249.3M391.50 238.2V271.6M391.50 238.2V248.4M392.50 238.2V248.3M394.50 238.2V269.8M395.50 238.2V258.4M396.50 238.2V281.9M396.50 238.2V259M397.50 238.2V324.4M397.50 238.2V288.8M399.50 238.2V296M399.50 238.2V258M400.50 238.2V292.7M401.50 238.2V254.1M401.50 238.2V251.2M402.50 238.2V291.5M404.50 238.2V264.7M405.50 238.2V291.4M406.50 238.2V286.6M406.50 238.2V251M407.50 238.2V285.9M407.50 238.2V257.4M408.50 238.2V251.3M410.50 238.2V272.9M410.50 238.2V243.5M411.50 238.2V275.7M411.50 238.2V242M412.50 238.2V244.5M414.50 238.2V241.7M416.50 238.2V262.5M417.50 238.2V292M417.50 238.2V288.6M418.50 238.2V266.6M420.50 238.2V274.6M422.50 238.2V341.2M423.50 238.2V321M423.50 238.2V293.4M424.50 238.2V253.4M425.50 238.2V241.4M426.50 238.2V307.8M426.50 238.2V292.1M427.50 238.2V263.9M428.50 238.2V277.5M431.50 238.2V251.1M432.50 238.2V246.3M433.50 238.2V241.5M434.50 238.2V294.4M437.50 238.2V253.6M438.50 238.2V261.5M439.50 238.2V265.5M440.50 238.2V262.7M441.50 238.2V297.1M442.50 238.2V241M444.50 238.2V297.4M445.50 238.2V246.2M446.50 238.2V253M448.50 238.2V280.3M450.50 238.2V284.5M451.50 238.2V279.9M451.50 238.2V271.6M454.50 238.2V280.2M454.50 238.2V258.5M455.50 238.2V257.3M456.50 238.2V260.4M457.50 238.2V258.6M459.50 238.2V296.4M460.50 238.2V244M462.50 238.2V297.9M463.50 238.2V284.9M464.50 238.2V248.1M465.50 238.2V246.9M466.50 238.2V314.7M466.50 238.2V265.7M467.50 238.2V240.5M470.50 238.2V266.8M471.50 238.2V263M472.50 238.2V329M472.50 238.2V316.6M473.50 238.2V339.9M473.50 238.2V339.5M475.50 238.2V284.5M475.50 238.2V244.7M476.50 238.2V273.2M478.50 238.2V321.7M480.50 238.2V360.6M480.50 238.2V357.8M482.50 238.2V257.7M483.50 238.2V356.3M486.50 238.2V299M486.50 238.2V265.5M486.50 238.2V251.1M487.50 238.2V290.5M487.50 238.2V249.5M489.50 238.2V283.3M490.50 238.2V259.7M492.50 238.2V282M492.50 238.2V270.1M493.50 238.2V301.8M494.50 238.2V297.1M495.50 238.2V312.4M497.50 238.2V279.7M499.50 238.2V264.2M500.50 238.2V298.6M501.50 238.2V282.4M501.50 238.2V266.6M502.50 238.2V251.1M502.50 238.2V240.5M503.50 238.2V271.2M504.50 238.2V298.9M504.50 238.2V265.3M505.50 238.2V275.9M506.50 238.2V286.9M506.50 238.2V286.9M507.50 238.2V255.9M510.50 238.2V238.7M511.50 238.2V245.7M512.50 238.2V268.3M513.50 238.2V269.9M515.50 238.2V293.6M516.50 238.2V287.1M516.50 238.2V276.8M517.50 238.2V270.9M519.50 238.2V277.1M519.50 238.2V246.9M520.50 238.2V269.5M520.50 238.2V262.7M521.50 238.2V286.9M521.50 238.2V249.4M523.50 238.2V281.5M524.50 238.2V260.2M525.50 238.2V271.8M525.50 238.2V251.9M526.50 238.2V278.9M527.50 238.2V307.3M528.50 238.2V295M528.50 238.2V294.4M529.50 238.2V271.3M530.50 238.2V252M531.50 238.2V258M532.50 238.2V270.4M534.50 238.2V262M534.50 238.2V239.8M535.50 238.2V254.6M535.50 238.2V252.5M536.50 238.2V299.2M540.50 238.2V265.8M540.50 238.2V254.3M542.50 238.2V286.4M542.50 238.2V282.6M543.50 238.2V313.3M543.50 238.2V307.9M544.50 238.2V336.3M545.50 238.2V267.7M546.50 238.2V261.5M547.50 238.2V281.6M548.50 238.2V289.6M549.50 238.2V317M549.50 238.2V316.3M550.50 238.2V284.9M550.50 238.2V271.8M550.50 238.2V258.1M551.50 238.2V252.6M554.50 238.2V267.4M556.50 238.2V352.8M558.50 238.2V378.5M558.50 238.2V256.2M558.50 238.2V241.3M559.50 238.2V324.4M560.50 238.2V358.6M560.50 238.2V244.8M561.50 238.2V308.1M561.50 238.2V260.3M562.50 238.2V324.6M562.50 238.2V301.4M564.50 238.2V287.1M565.50 238.2V332.1M567.50 238.2V244.5M570.50 238.2V240.2M571.50 238.2V318M572.50 238.2V281.4M572.50 238.2V265.7M575.50 238.2V288.9M576.50 238.2V270.1M577.50 238.2V385.5M578.50 238.2V291.9M578.50 238.2V291.9M579.50 238.2V243.6M580.50 238.2V293.3M582.50 238.2V266.5M583.50 238.2V246.4M584.50 238.2V245.6M585.50 238.2V317M586.50 238.2V283.3M587.50 238.2V280.3M587.50 238.2V243.4M588.50 238.2V264.9M590.50 238.2V287.3M592.50 238.2V270.5M593.50 238.2V317.1M593.50 238.2V309M594.50 238.2V281.4M594.50 238.2V240.4M595.50 238.2V274.5M596.50 238.2V303.2M596.50 238.2V265.2M598.50 238.2V297M598.50 238.2V274.3M600.50 238.2V259.3M601.50 238.2V295.3M602.50 238.2V361.8M603.50 238.2V246.7M604.50 238.2V261.8M605.50 238.2V281.8M606.50 238.2V247.2M607.50 238.2V268.2M609.50 238.2V296.3M610.50 238.2V320.9M611.50 238.2V340.9M611.50 238.2V273.1M613.50 238.2V259.5M614.50 238.2V328.9M615.50 238.2V270.1M618.50 238.2V250.8M620.50 238.2V286.4M620.50 238.2V270.9M622.50 238.2V320.6M622.50 238.2V280.4M623.50 238.2V277.7M626.50 238.2V288.9M627.50 238.2V258.5M632.50 238.2V305.9M635.50 238.2V244.9M636.50 238.2V241.9M637.50 238.2V283.5M638.50 238.2V286.5M638.50 238.2V257.4M640.50 238.2V251.9M641.50 238.2V303.1M641.50 238.2V278.8M643.50 238.2V278.8M644.50 238.2V288.5M645.50 238.2V287M647.50 238.2V337.3M647.50 238.2V332.8M648.50 238.2V351.6M650.50 238.2V336.2M651.50 238.2V252.3M651.50 238.2V247M654.50 238.2V252.4M656.50 238.2V265.7M657.50 238.2V241M658.50 238.2V355.5M660.50 238.2V288.7M661.50 238.2V259.7M662.50 238.2V358.4M663.50 238.2V308.5M663.50 238.2V302.9M665.50 238.2V270.7M665.50 238.2V252.7M667.50 238.2V267M668.50 238.2V323.1M669.50 238.2V265.2M670.50 238.2V257.6M671.50 238.2V292.7M671.50 238.2V278.3M672.50 238.2V296M673.50 238.2V255.1M674.50 238.2V261.3M676.50 238.2V345.5M677.50 238.2V326.4M677.50 238.2V297.7M677.50 238.2V274.9M678.50 238.2V268.4M678.50 238.2V256.7M679.50 238.2V266.3M679.50 238.2V256.9"/>
<path stroke="#0070c0" d="M106.50 193.5V238.2M108.50 202.9V238.2M109.50 220.4V238.2M112.50 219.9V238.2M112.50 228.6V238.2M115.50 221.7V238.2M116.50 176V238.2M122.50 204.5V238.2M122.50 210.2V238.2M123.50 184.4V238.2M123.50 219.6V238.2M128.50 228.2V238.2M129.50 140.9V238.2M129.50 162.9V238.2M129.50 176.7V238.2M130.50 197.3V238.2M130.50 201.4V238.2M131.50 191.2V238.2M134.50 179.3V238.2M134.50 214.9V238.2M138.50 205.3V238.2M138.50 212.6V238.2M138.50 237.1V238.2M140.50 220.8V238.2M140.50 227.4V238.2M141.50 206.5V238.2M141.50 221.1V238.2M143.50 221.3V238.2M147.50 158.8V238.2M148.50 193.6V238.2M148.50 220V238.2M149.50 211.2V238.2M151.50 227.3V238.2M152.50 213.3V238.2M154.50 199.2V238.2M154.50 212.8V238.2M157.50 117.4V238.2M157.50 128.2V238.2M158.50 217.3V238.2M159.50 176.3V238.2M159.50 201.5V238.2M160.50 221.6V238.2M164.50 199.6V238.2M165.50 223.1V238.2M168.50 230.7V238.2M170.50 229.4V238.2M171.50 195.8V238.2M172.50 160.1V238.2M172.50 221.7V238.2M173.50 235.9V238.2M174.50 200.8V238.2M174.50 213.6V238.2M177.50 192.6V238.2M178.50 236.5V238.2M179.50 220.2V238.2M179.50 228.2V238.2M181.50 192.5V238.2M181.50 214.6V238.2M183.50 192.7V238.2M187.50 154.6V238.2M187.50 230.6V238.2M192.50 209.5V238.2M194.50 194.4V238.2M194.50 216.3V238.2M195.50 229.4V238.2M199.50 177.5V238.2M202.50 218.7V238.2M204.50 184.4V238.2M204.50 202.7V238.2M210.50 208.7V238.2M210.50 221.8V238.2M211.50 212.1V238.2M214.50 212.9V238.2M216.50 226.2V238.2M223.50 213.6V238.2M229.50 225.6V238.2M230.50 203.7V238.2M230.50 206.7V238.2M233.50 188V238.2M235.50 189.9V238.2M241.50 233.2V238.2M242.50 193.8V238.2M242.50 200.1V238.2M243.50 208V238.2M243.50 223V238.2M244.50 194V238.2M244.50 194.5V238.2M246.50 213.6V238.2M250.50 195.7V238.2M250.50 203.7V238.2M251.50 174.8V238.2M252.50 99.7V238.2M252.50 164.9V238.2M254.50 219.1V238.2M255.50 201.7V238.2M255.50 211.1V238.2M259.50 174.3V238.2M259.50 189.9V238.2M269.50 208V238.2M269.50 229.6V238.2M273.50 187.1V238.2M273.50 211V238.2M273.50 214.3V238.2M276.50 204.2V238.2M278.50 219.7V238.2M281.50 176.4V238.2M283.50 224.6V238.2M285.50 188.7V238.2M290.50 191V238.2M290.50 223V238.2M291.50 197.3V238.2M291.50 217.4V238.2M292.50 234.3V238.2M293.50 189.8V238.2M293.50 211.3V238.2M297.50 204.6V238.2M298.50 232V238.2M300.50 206V238.2M300.50 217.5V238.2M301.50 169.5V238.2M302.50 211.5V238.2M302.50 227.7V238.2M304.50 224.3V238.2M305.50 222V238.2M308.50 214V238.2M309.50 232.1V238.2M311.50 209.2V238.2M311.50 225.9V238.2M312.50 183.5V238.2M312.50 220.3V238.2M314.50 206.1V238.2M314.50 218.6V238.2M317.50 221.8V238.2M327.50 224.3V238.2M328.50 227.4V238.2M328.50 231.3V238.2M330.50 204.1V238.2M330.50 210.4V238.2M331.50 216.1V238.2M333.50 167.4V238.2M333.50 199.2V238.2M335.50 206.5V238.2M335.50 225.1V238.2M339.50 234.2V238.2M341.50 227.6V238.2M345.50 226.3V238.2M345.50 237.9V238.2M350.50 229.3V238.2M351.50 221.5V238.2M351.50 222.7V238.2M357.50 230.4V238.2M358.50 232.6V238.2M359.50 214.1V238.2M361.50 222.7V238.2M361.50 227.7V238.2M363.50 153.6V238.2M363.50 200.2V238.2M363.50 237.9V238.2M364.50 208.2V238.2M367.50 119.3V238.2M367.50 143.1V238.2M367.50 196.1V238.2M369.50 193.9V238.2M373.50 209.6V238.2M373.50 220V238.2M376.50 219.7V238.2M377.50 233.8V238.2M380.50 237.9V238.2M381.50 212.9V238.2M383.50 176.9V238.2M383.50 178.7V238.2M383.50 221.8V238.2M385.50 160.1V238.2M385.50 198.8V238.2M385.50 199.7V238.2M386.50 179V238.2M386.50 195.5V238.2M386.50 221.2V238.2M387.50 236V238.2M390.50 204.1V238.2M395.50 205.1V238.2M397.50 219.5V238.2M398.50 194.1V238.2M399.50 219.3V238.2M403.50 204.7V238.2M403.50 237.9V238.2M404.50 227.1V238.2M405.50 237.9V238.2M405.50 237.9V238.2M406.50 211.9V238.2M406.50 214V238.2M407.50 227.8V238.2M413.50 215.1V238.2M417.50 180.8V238.2M418.50 214.3V238.2M418.50 232.3V238.2M420.50 237.9V238.2M421.50 175.8V238.2M421.50 195.2V238.2M422.50 234.5V238.2M429.50 201.2V238.2M429.50 203.1V238.2M430.50 237.9V238.2M433.50 237.9V238.2M435.50 235.8V238.2M437.50 237.9V238.2M443.50 211.9V238.2M444.50 237.9V238.2M446.50 225.3V238.2M446.50 237.9V238.2M450.50 215.5V238.2M455.50 214.2V238.2M457.50 214.9V238.2M457.50 217V238.2M457.50 229V238.2M459.50 185.6V238.2M459.50 195.1V238.2M459.50 235.3V238.2M463.50 207.1V238.2M463.50 237.9V238.2M465.50 190.6V238.2M467.50 237.9V238.2M467.50 237.9V238.2M473.50 237.9V238.2M474.50 212.3V238.2M474.50 237.9V238.2M475.50 235.2V238.2M479.50 219.2V238.2M479.50 237.9V238.2M482.50 165.5V238.2M482.50 201.5V238.2M482.50 237.9V238.2M483.50 224.4V238.2M483.50 237.9V238.2M484.50 198.7V238.2M484.50 237.9V238.2M485.50 227.2V238.2M487.50 174.2V238.2M487.50 219.4V238.2M492.50 193.2V238.2M496.50 188.2V238.2M500.50 237.9V238.2M502.50 179V238.2M507.50 204.6V238.2M508.50 202.6V238.2M508.50 208V238.2M508.50 237.9V238.2M509.50 219.2V238.2M509.50 237.9V238.2M510.50 237.4V238.2M512.50 237.9V238.2M513.50 222.7V238.2M518.50 162.7V238.2M518.50 236V238.2M523.50 218.4V238.2M523.50 237.9V238.2M526.50 207.8V238.2M526.50 230.8V238.2M526.50 237.9V238.2M527.50 187V238.2M527.50 206.3V238.2M531.50 213.9V238.2M531.50 237.9V238.2M532.50 205.9V238.2M532.50 237.9V238.2M532.50 237.9V238.2M534.50 237.9V238.2M535.50 186.5V238.2M535.50 237.9V238.2M537.50 213.5V238.2M539.50 229.4V238.2M539.50 236.6V238.2M541.50 237.9V238.2M542.50 229.7V238.2M543.50 193.8V238.2M544.50 198.9V238.2M546.50 237.9V238.2M546.50 237.9V238.2M549.50 199.7V238.2M552.50 237.9V238.2M552.50 237.9V238.2M553.50 225V238.2M555.50 179.8V238.2M555.50 237.9V238.2M558.50 196.4V238.2M558.50 237.9V238.2M559.50 233.8V238.2M559.50 237.9V238.2M565.50 176.1V238.2M565.50 237.9V238.2M566.50 237.9V238.2M567.50 221.8V238.2M569.50 237.9V238.2M570.50 212.6V238.2M570.50 237.9V238.2M574.50 207.4V238.2M574.50 231.1V238.2M575.50 168.4V238.2M575.50 212.1V238.2M576.50 180.4V238.2M576.50 192.7V238.2M576.50 237.9V238.2M578.50 237.9V238.2M578.50 237.9V238.2M581.50 216.3V238.2M583.50 207.3V238.2M585.50 237.9V238.2M586.50 224V238.2M586.50 227V238.2M587.50 237.9V238.2M588.50 221V238.2M593.50 213.8V238.2M593.50 237.9V238.2M597.50 217.1V238.2M598.50 188.8V238.2M599.50 213.4V238.2M599.50 237.9V238.2M601.50 231.5V238.2M601.50 237.9V238.2M607.50 237.9V238.2M609.50 234.1V238.2M610.50 203.9V238.2M610.50 237.9V238.2M610.50 237.9V238.2M616.50 228.8V238.2M616.50 237.9V238.2M617.50 237.8V238.2M617.50 237.9V238.2M619.50 215.5V238.2M619.50 216.3V238.2M621.50 237.9V238.2M622.50 237.9V238.2M623.50 216.6V238.2M623.50 237.9V238.2M624.50 236.4V238.2M625.50 237.9V238.2M627.50 235.3V238.2M627.50 237.9V238.2M628.50 182.1V238.2M628.50 237.9V238.2M631.50 237.9V238.2M633.50 228.2V238.2M633.50 237.9V238.2M634.50 237.3V238.2M634.50 237.9V238.2M635.50 162.4V238.2M635.50 182.2V238.2M635.50 237.9V238.2M636.50 220.5V238.2M637.50 159.4V238.2M637.50 175.3V238.2M638.50 182.2V238.2M642.50 229.1V238.2M642.50 237.9V238.2M643.50 237.9V238.2M644.50 233.6V238.2M646.50 167.4V238.2M646.50 237.9V238.2M648.50 237.9V238.2M649.50 224.9V238.2M651.50 237.9V238.2M655.50 225.5V238.2M655.50 237.9V238.2M659.50 229.1V238.2M661.50 168.6V238.2M661.50 237.9V238.2M666.50 237.9V238.2M666.50 237.9V238.2M667.50 221.7V238.2M668.50 200V238.2M668.50 237.9V238.2M669.50 237.9V238.2M671.50 237.9V238.2M672.50 233.3V238.2M676.50 237.9V238.2M677.50 180.8V238.2M677.50 237.9V238.2M677.50 237.9V238.2M104.50 238.2V255.1M106.50 238.2V238.8M109.50 238.2V274.7M112.50 238.2V257.8M113.50 238.2V289.9M115.50 238.2V238.9M118.50 238.2V238.6M120.50 238.2V241M121.50 238.2V261.7M123.50 238.2V289.2M123.50 238.2V250.6M124.50 238.2V283.8M127.50 238.2V278.9M128.50 238.2V248.3M129.50 238.2V268.4M130.50 238.2V244.8M131.50 238.2V272.4M131.50 238.2V238.7M133.50 238.2V244.3M134.50 238.2V260.3M134.50 238.2V257.7M135.50 238.2V256.6M135.50 238.2V249.7M136.50 238.2V312M136.50 238.2V267.3M137.50 238.2V264.1M143.50 238.2V293.6M143.50 238.2V291.5M143.50 238.2V247.4M145.50 238.2V285.4M145.50 238.2V274.9M145.50 238.2V257.1M146.50 238.2V265.5M149.50 238.2V262.7M150.50 238.2V253.1M151.50 238.2V248.7M151.50 238.2V248.6M152.50 238.2V268.5M153.50 238.2V253.3M153.50 238.2V245.4M155.50 238.2V281.3M163.50 238.2V243.5M164.50 238.2V296.4M168.50 238.2V267M171.50 238.2V247.5M173.50 238.2V248.6M174.50 238.2V261.5M174.50 238.2V251.7M174.50 238.2V240.9M178.50 238.2V276.9M179.50 238.2V313.3M179.50 238.2V254.2M181.50 238.2V240.1M184.50 238.2V246.1M186.50 238.2V264.4M190.50 238.2V247.9M191.50 238.2V243M193.50 238.2V241.6M194.50 238.2V247.4M194.50 238.2V247.1M196.50 238.2V257.5M196.50 238.2V245.2M200.50 238.2V264.2M201.50 238.2V281.6M201.50 238.2V244.1M204.50 238.2V288.4M204.50 238.2V252.3M204.50 238.2V238.5M205.50 238.2V253.1M205.50 238.2V241.1M215.50 238.2V282M216.50 238.2V240.4M217.50 238.2V288.4M217.50 238.2V242.2M218.50 238.2V271.3M218.50 238.2V244.3M219.50 238.2V248.7M219.50 238.2V248.7M220.50 238.2V261.5M224.50 238.2V241.4M225.50 238.2V265.3M227.50 238.2V267.6M228.50 238.2V240.7M231.50 238.2V242.5M232.50 238.2V251.5M233.50 238.2V289.3M233.50 238.2V278.8M233.50 238.2V245.3M238.50 238.2V243.2M240.50 238.2V246M241.50 238.2V277.5M241.50 238.2V273.4M244.50 238.2V245.3M245.50 238.2V246.9M245.50 238.2V243.8M247.50 238.2V250.3M248.50 238.2V320.4M248.50 238.2V313.9M248.50 238.2V257.5M252.50 238.2V267.3M253.50 238.2V270.4M254.50 238.2V243.1M255.50 238.2V283.4M255.50 238.2V251M256.50 238.2V264.2M257.50 238.2V275.3M257.50 238.2V243.7M258.50 238.2V292.6M258.50 238.2V285.9M258.50 238.2V275M260.50 238.2V254.9M260.50 238.2V245.3M261.50 238.2V270.4M264.50 238.2V271.5M264.50 238.2V244.7M265.50 238.2V302.2M265.50 238.2V249.4M267.50 238.2V239.4M267.50 238.2V239.2M268.50 238.2V289.1M270.50 238.2V288.4M270.50 238.2V260.2M273.50 238.2V266.1M273.50 238.2V264.3M275.50 238.2V242.8M276.50 238.2V258.2M276.50 238.2V244.9M277.50 238.2V239.4M284.50 238.2V267.8M284.50 238.2V258.3M285.50 238.2V267.6M287.50 238.2V264.4M288.50 238.2V324.6M288.50 238.2V284.7M288.50 238.2V276.7M294.50 238.2V260M295.50 238.2V265.2M297.50 238.2V246M298.50 238.2V295M298.50 238.2V254.8M299.50 238.2V273.7M299.50 238.2V272.9M299.50 238.2V246.9M301.50 238.2V273.3M302.50 238.2V297.8M302.50 238.2V253.8M303.50 238.2V255M304.50 238.2V287.1M307.50 238.2V264.6M309.50 238.2V269.7M310.50 238.2V243.5M312.50 238.2V297.4M312.50 238.2V274.3M312.50 238.2V260.1M316.50 238.2V264.3M322.50 238.2V286.2M326.50 238.2V259.8M327.50 238.2V302.7M327.50 238.2V290.3M327.50 238.2V271.3M331.50 238.2V247.3M331.50 238.2V239.2M332.50 238.2V302.9M334.50 238.2V273.3M334.50 238.2V251.9M334.50 238.2V250.1M335.50 238.2V288.7M336.50 238.2V245.9M337.50 238.2V242.1M338.50 238.2V240.5M338.50 238.2V239.3M339.50 238.2V264.1M341.50 238.2V277.4M344.50 238.2V249.5M347.50 238.2V278.3M349.50 238.2V269M349.50 238.2V240.6M353.50 238.2V251.6M355.50 238.2V296.2M355.50 238.2V270.7M355.50 238.2V265M355.50 238.2V248.3M360.50 238.2V275.8M362.50 238.2V294.1M363.50 238.2V239.7M365.50 238.2V244M366.50 238.2V266.8M367.50 238.2V262.6M368.50 238.2V286.9M368.50 238.2V258.5M369.50 238.2V305.9M370.50 238.2V241.3M372.50 238.2V238.9M375.50 238.2V277.6M375.50 238.2V244.9M377.50 238.2V247.6M378.50 238.2V269.9M379.50 238.2V258.9M379.50 238.2V250.2M379.50 238.2V245.9M380.50 238.2V275.2M380.50 238.2V268.5M380.50 238.2V267.7M381.50 238.2V243.5M382.50 238.2V258.1M386.50 238.2V244.1M389.50 238.2V244.7M396.50 238.2V252.1M397.50 238.2V255.4M400.50 238.2V253.7M401.50 238.2V240.4M402.50 238.2V272.7M402.50 238.2V262.2M403.50 238.2V315.1M403.50 238.2V294.7M404.50 238.2V255.9M404.50 238.2V238.9M405.50 238.2V268.9M414.50 238.2V240.7M417.50 238.2V256.5M419.50 238.2V254.7M419.50 238.2V252.7M420.50 238.2V252.2M421.50 238.2V286.1M421.50 238.2V274.1M422.50 238.2V247.2M423.50 238.2V267M423.50 238.2V244.8M426.50 238.2V282.6M426.50 238.2V243.3M428.50 238.2V268.2M430.50 238.2V320.3M430.50 238.2V285.9M434.50 238.2V287.7M435.50 238.2V267.8M438.50 238.2V255.2M440.50 238.2V252.8M440.50 238.2V246.1M441.50 238.2V242.5M443.50 238.2V246.8M448.50 238.2V274M448.50 238.2V238.5M449.50 238.2V267.9M449.50 238.2V239.5M451.50 238.2V262.3M452.50 238.2V284.8M452.50 238.2V241M454.50 238.2V250.2M457.50 238.2V249.9M457.50 238.2V242.1M458.50 238.2V312.1M458.50 238.2V278.9M463.50 238.2V277.6M470.50 238.2V260.1M472.50 238.2V270.7M472.50 238.2V246M473.50 238.2V239.5M475.50 238.2V243.5M478.50 238.2V319.5M478.50 238.2V272.2M480.50 238.2V351.7M480.50 238.2V346.5M482.50 238.2V256.7M483.50 238.2V307.8M485.50 238.2V298.9M489.50 238.2V254.9M490.50 238.2V253.3M490.50 238.2V244.1M491.50 238.2V245.6M492.50 238.2V245.4M493.50 238.2V256.7M494.50 238.2V281.5M495.50 238.2V249.7M497.50 238.2V276.7M499.50 238.2V255.5M499.50 238.2V251.1M500.50 238.2V288.8M505.50 238.2V272.5M506.50 238.2V260.1M513.50 238.2V257.3M516.50 238.2V268.2M516.50 238.2V242.1M520.50 238.2V250M520.50 238.2V243.9M522.50 238.2V254.1M523.50 238.2V267.6M524.50 238.2V245.4M527.50 238.2V246.8M527.50 238.2V239.4M529.50 238.2V251M530.50 238.2V248.2M531.50 238.2V252.8M531.50 238.2V252.5M536.50 238.2V268.3M539.50 238.2V319.6M540.50 238.2V242.5M543.50 238.2V243.7M544.50 238.2V264M544.50 238.2V241.6M545.50 238.2V250M545.50 238.2V243.3M551.50 238.2V252M553.50 238.2V248.7M554.50 238.2V255.7M556.50 238.2V264.1M556.50 238.2V244.3M557.50 238.2V247.2M559.50 238.2V283.2M562.50 238.2V301.2M562.50 238.2V238.5M565.50 238.2V255.9M565.50 238.2V254.3M566.50 238.2V303.8M566.50 238.2V240.3M570.50 238.2V238.7M571.50 238.2V311M571.50 238.2V284M572.50 238.2V262.2M573.50 238.2V277.7M573.50 238.2V271.6M573.50 238.2V270.6M575.50 238.2V260.1M576.50 238.2V254.5M577.50 238.2V241.1M580.50 238.2V282M580.50 238.2V269.2M580.50 238.2V268M580.50 238.2V256.9M582.50 238.2V252.2M585.50 238.2V290M585.50 238.2V272.3M585.50 238.2V252M588.50 238.2V261.1M589.50 238.2V295.4M589.50 238.2V295.2M590.50 238.2V267.4M590.50 238.2V240.1M592.50 238.2V257.8M595.50 238.2V260.9M595.50 238.2V259.9M599.50 238.2V292.1M600.50 238.2V257.1M600.50 238.2V243.8M601.50 238.2V269.9M602.50 238.2V322.1M602.50 238.2V252.9M605.50 238.2V239.9M607.50 238.2V264.4M607.50 238.2V239M608.50 238.2V295.7M608.50 238.2V261.8M609.50 238.2V243.7M613.50 238.2V246.4M614.50 238.2V253.8M615.50 238.2V254.2M617.50 238.2V239.2M619.50 238.2V312M619.50 238.2V287.5M622.50 238.2V266.3M622.50 238.2V266.1M623.50 238.2V268.3M624.50 238.2V275.9M624.50 238.2V254.7M625.50 238.2V301.1M626.50 238.2V263.3M626.50 238.2V259.6M627.50 238.2V246M628.50 238.2V239.5M632.50 238.2V279.6M633.50 238.2V292.7M633.50 238.2V257.5M634.50 238.2V278.3M634.50 238.2V253.1M637.50 238.2V241.2M641.50 238.2V267.5M642.50 238.2V251.8M644.50 238.2V283M644.50 238.2V270.1M646.50 238.2V255.9M647.50 238.2V304.3M647.50 238.2V269.8M647.50 238.2V261.1M647.50 238.2V257.7M648.50 238.2V320.5M648.50 238.2V288.5M650.50 238.2V320.4M651.50 238.2V244.9M658.50 238.2V343.7M658.50 238.2V330.5M658.50 238.2V243.7M660.50 238.2V276.9M660.50 238.2V254.5M662.50 238.2V339.1M662.50 238.2V243.5M663.50 238.2V283.2M668.50 238.2V259.6M668.50 238.2V247M671.50 238.2V253.7M672.50 238.2V282.5M672.50 238.2V277.2M673.50 238.2V254M673.50 238.2V246.9M676.50 238.2V300.7M677.50 238.2V263.8M678.50 238.2V246.7"/></g>
<path d="M103.6 237.9 L151.2 233 L198.9 236.5 L246.5 234.3 L294.1 235.6 L341.8 236 L389.4 231.3 L437.0 233 L484.6 236.5 L532.3 234.4 L579.9 234.1 L627.5 236" stroke="#c80000" stroke-width="3" fill="none" stroke-linejoin="round"/>
<g filter="url(#tb)">
<line x1="435.1" y1="5" x2="472.1" y2="5" stroke="#1a6ec0" stroke-width="2.2" stroke-linecap="round"/>
<line x1="435.1" y1="32.6" x2="472.1" y2="32.6" stroke="#b81c24" stroke-width="2.2" stroke-linecap="round"/>
<text x="522.6" y="11.3" font-size="15.5">Hourly power output</text>
<text x="491" y="38.9" font-size="15.5">Monthly average power output</text>
<line x1="103.6" y1="46.8" x2="103.6" y2="435.5" stroke="#2a2a2a" stroke-width="1.5"/>
<line x1="96.5" y1="434.8" x2="681.6" y2="434.8" stroke="#555" stroke-width="1.8"/>
<line x1="97" y1="47.4" x2="103.6" y2="47.4" stroke="#2a2a2a" stroke-width="1.3"/>
<text x="95.4" y="54.8" font-size="24" text-anchor="end">600</text>
<line x1="97" y1="144.4" x2="103.6" y2="144.4" stroke="#2a2a2a" stroke-width="1.3"/>
<text x="92.8" y="152.1" font-size="24" text-anchor="end">300</text>
<line x1="97" y1="238.2" x2="103.6" y2="238.2" stroke="#2a2a2a" stroke-width="1.3"/>
<text x="92.4" y="246.7" font-size="24" text-anchor="end">0</text>
<line x1="97" y1="337.5" x2="103.6" y2="337.5" stroke="#2a2a2a" stroke-width="1.3"/>
<text x="95.9" y="346" font-size="24" text-anchor="end">-300</text>
<line x1="97" y1="434.4" x2="103.6" y2="434.4" stroke="#2a2a2a" stroke-width="1.3"/>
<text x="94.1" y="439" font-size="24" text-anchor="end">-600</text>
<text x="103.2" y="455.8" font-size="24.5" text-anchor="middle">1</text>
<line x1="146.3" y1="428.5" x2="146.3" y2="434.8" stroke="#444" stroke-width="1.4"/>
<text x="146.3" y="455.8" font-size="24.5" text-anchor="middle">2</text>
<line x1="195.8" y1="428.5" x2="195.8" y2="434.8" stroke="#444" stroke-width="1.4"/>
<text x="195.8" y="455.8" font-size="24.5" text-anchor="middle">3</text>
<line x1="246.1" y1="428.5" x2="246.1" y2="434.8" stroke="#444" stroke-width="1.4"/>
<text x="246.1" y="455.8" font-size="24.5" text-anchor="middle">4</text>
<line x1="296.5" y1="428.5" x2="296.5" y2="434.8" stroke="#444" stroke-width="1.4"/>
<text x="296.5" y="455.8" font-size="24.5" text-anchor="middle">5</text>
<line x1="341.3" y1="428.5" x2="341.3" y2="434.8" stroke="#444" stroke-width="1.4"/>
<text x="340.0" y="455.8" font-size="24.5" text-anchor="middle">6</text>
<line x1="391.6" y1="428.5" x2="391.6" y2="434.8" stroke="#444" stroke-width="1.4"/>
<text x="390.7" y="455.8" font-size="24.5" text-anchor="middle">7</text>
<line x1="441.4" y1="428.5" x2="441.4" y2="434.8" stroke="#444" stroke-width="1.4"/>
<text x="442.5" y="455.8" font-size="24.5" text-anchor="middle">8</text>
<line x1="491.7" y1="428.5" x2="491.7" y2="434.8" stroke="#444" stroke-width="1.4"/>
<text x="492.4" y="455.8" font-size="24.5" text-anchor="middle">9</text>
<line x1="538.5" y1="428.5" x2="538.5" y2="434.8" stroke="#444" stroke-width="1.4"/>
<text x="536.7" y="455.8" font-size="24.5" text-anchor="middle">10</text>
<line x1="582.6" y1="428.5" x2="582.6" y2="434.8" stroke="#444" stroke-width="1.4"/>
<text x="583.6" y="455.8" font-size="24.5" text-anchor="middle">11</text>
<line x1="632.1" y1="428.5" x2="632.1" y2="434.8" stroke="#444" stroke-width="1.4"/>
<text x="633.5" y="455.8" font-size="24.5" text-anchor="middle">12</text>
<text x="683.6" y="455.8" font-size="24.5" text-anchor="middle">1</text>
<line x1="680.9" y1="428.5" x2="680.9" y2="434.8" stroke="#444" stroke-width="1.4"/>
<text x="404.7" y="483" font-size="23.8" text-anchor="middle">Month</text>
<text transform="translate(16.3,313.2) rotate(-90)" font-size="23.5">Energy storage</text>
<text transform="translate(44.3,421.2) rotate(-90)" font-size="23.5">charging and discharging power (MW)</text>
</g>
</svg>
</body></html>
